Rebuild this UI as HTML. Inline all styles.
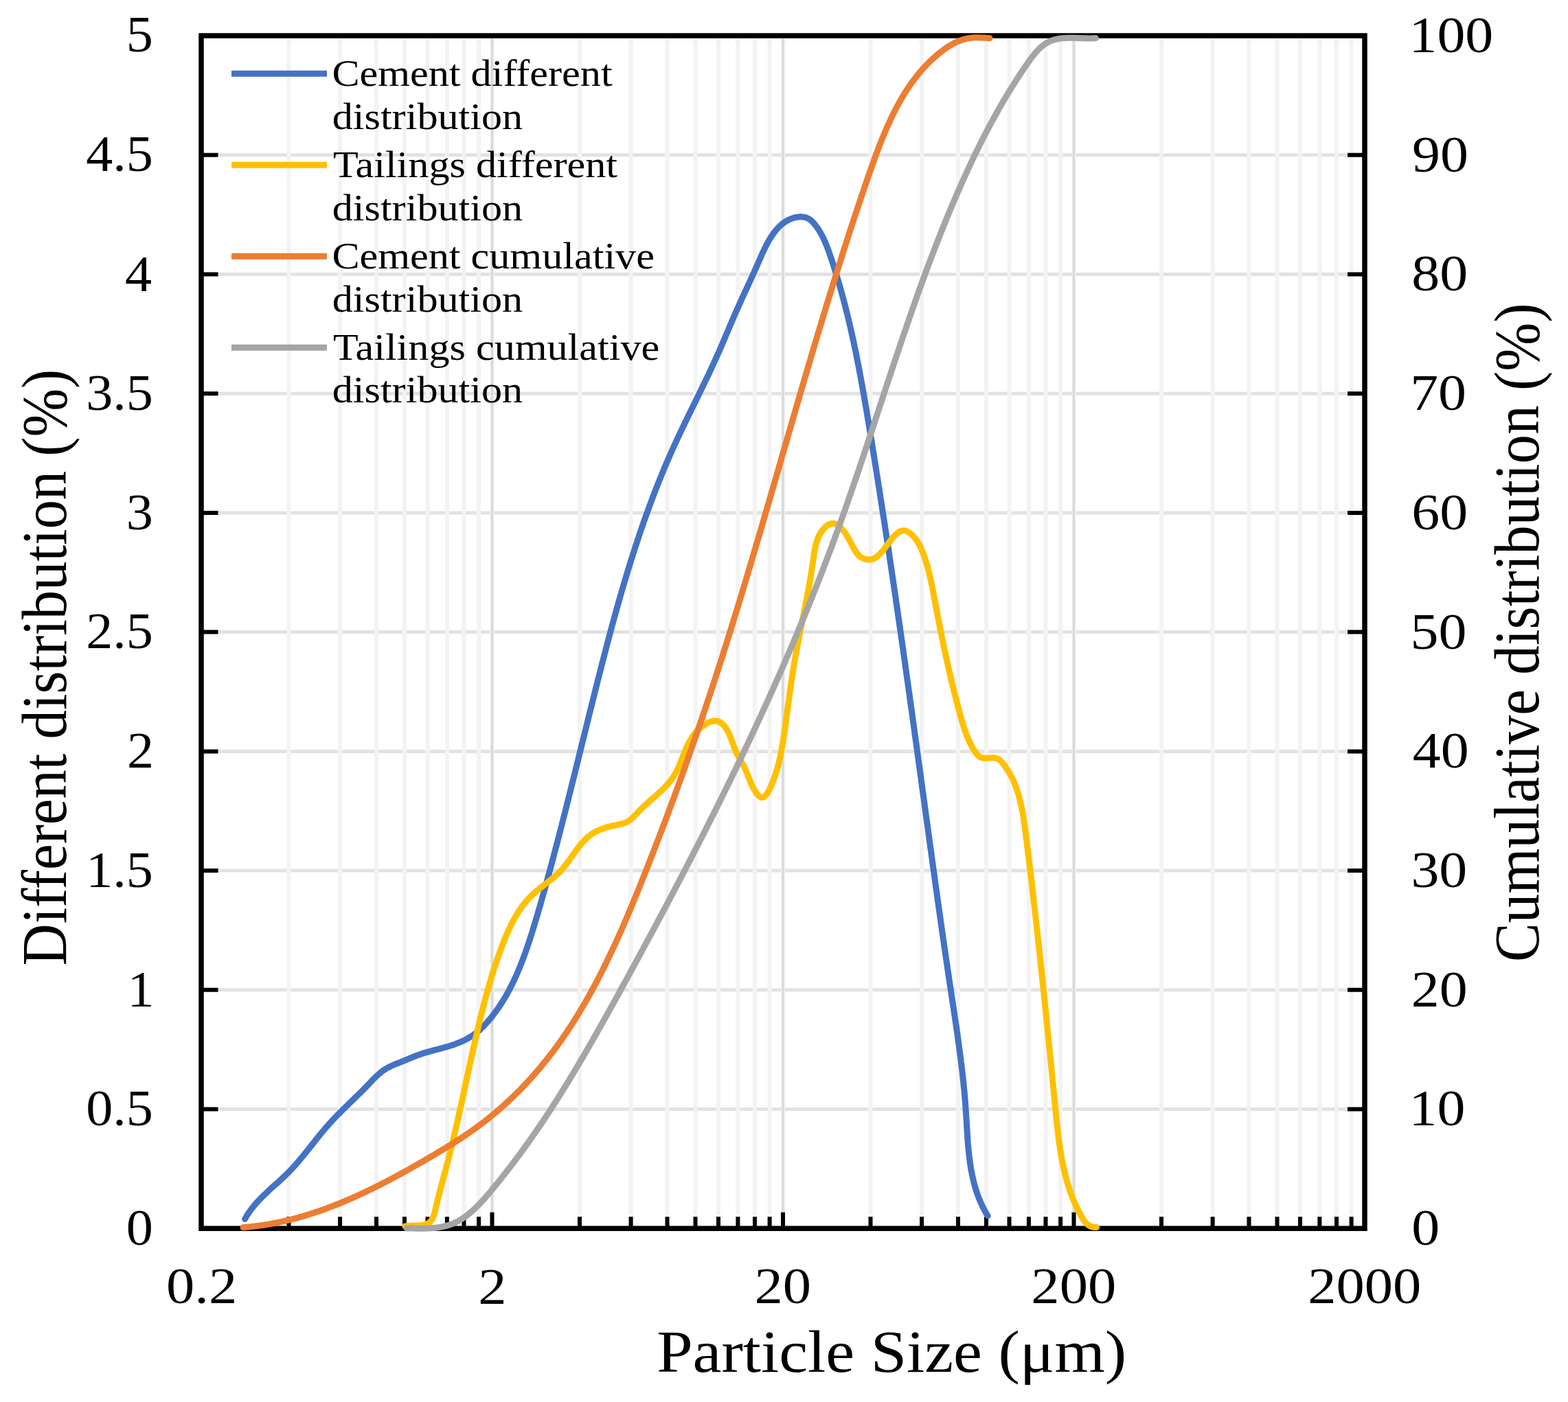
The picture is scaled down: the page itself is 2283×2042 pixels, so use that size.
<!DOCTYPE html>
<html><head><meta charset="utf-8"><title>Particle size distribution</title>
<style>html,body{margin:0;padding:0;background:#fff;}svg{display:block;}</style>
</head><body>
<svg xmlns="http://www.w3.org/2000/svg" width="2283" height="2042" viewBox="0 0 2283 2042" font-family="'Liberation Serif', 'Times New Roman', serif">
<rect width="2283" height="2042" fill="#fff"/>
<path d="M293.0,1615.6H1987.0M293.0,1441.8H1987.0M293.0,1268.1H1987.0M293.0,1094.4H1987.0M293.0,920.6H1987.0M293.0,746.9H1987.0M293.0,573.2H1987.0M293.0,399.5H1987.0M293.0,225.7H1987.0" stroke="#e2e2e2" stroke-width="5" fill="none"/>
<path d="M293.0,52.0V1789.3M420.5,52.0V1789.3M495.1,52.0V1789.3M548.0,52.0V1789.3M589.0,52.0V1789.3M622.5,52.0V1789.3M650.9,52.0V1789.3M675.5,52.0V1789.3M697.1,52.0V1789.3M716.5,52.0V1789.3M844.0,52.0V1789.3M918.6,52.0V1789.3M971.5,52.0V1789.3M1012.5,52.0V1789.3M1046.0,52.0V1789.3M1074.4,52.0V1789.3M1099.0,52.0V1789.3M1120.6,52.0V1789.3M1140.0,52.0V1789.3M1267.5,52.0V1789.3M1342.1,52.0V1789.3M1395.0,52.0V1789.3M1436.0,52.0V1789.3M1469.5,52.0V1789.3M1497.9,52.0V1789.3M1522.5,52.0V1789.3M1544.1,52.0V1789.3M1563.5,52.0V1789.3M1691.0,52.0V1789.3M1765.6,52.0V1789.3M1818.5,52.0V1789.3M1859.5,52.0V1789.3M1893.0,52.0V1789.3M1921.4,52.0V1789.3M1946.0,52.0V1789.3M1967.6,52.0V1789.3" stroke="#f3f3f3" stroke-width="6" fill="none"/>
<path d="M716.5,52.0V1789.3M1140.0,52.0V1789.3M1563.5,52.0V1789.3" stroke="#d9d9d9" stroke-width="3.4" fill="none"/>
<path d="M293.0,52.0V1789.3M1987.0,52.0V1789.3M289.25,52.0H1990.75M289.25,1789.3H1990.75" stroke="#000" stroke-width="7.5" fill="none"/>
<path d="M293.0,1789.3H317.5M1987.0,1789.3H1962.0M293.0,1615.6H317.5M1987.0,1615.6H1962.0M293.0,1441.8H317.5M1987.0,1441.8H1962.0M293.0,1268.1H317.5M1987.0,1268.1H1962.0M293.0,1094.4H317.5M1987.0,1094.4H1962.0M293.0,920.6H317.5M1987.0,920.6H1962.0M293.0,746.9H317.5M1987.0,746.9H1962.0M293.0,573.2H317.5M1987.0,573.2H1962.0M293.0,399.5H317.5M1987.0,399.5H1962.0M293.0,225.7H317.5M1987.0,225.7H1962.0M293.0,52.0H317.5M1987.0,52.0H1962.0M420.5,1789.3V1772.3M495.1,1789.3V1772.3M548.0,1789.3V1772.3M589.0,1789.3V1772.3M622.5,1789.3V1772.3M650.9,1789.3V1772.3M675.5,1789.3V1772.3M697.1,1789.3V1772.3M844.0,1789.3V1772.3M918.6,1789.3V1772.3M971.5,1789.3V1772.3M1012.5,1789.3V1772.3M1046.0,1789.3V1772.3M1074.4,1789.3V1772.3M1099.0,1789.3V1772.3M1120.6,1789.3V1772.3M1267.5,1789.3V1772.3M1342.1,1789.3V1772.3M1395.0,1789.3V1772.3M1436.0,1789.3V1772.3M1469.5,1789.3V1772.3M1497.9,1789.3V1772.3M1522.5,1789.3V1772.3M1544.1,1789.3V1772.3M1691.0,1789.3V1772.3M1765.6,1789.3V1772.3M1818.5,1789.3V1772.3M1859.5,1789.3V1772.3M1893.0,1789.3V1772.3M1921.4,1789.3V1772.3M1946.0,1789.3V1772.3M1967.6,1789.3V1772.3M293.0,1789.3V1765.8M716.5,1789.3V1765.8M1140.0,1789.3V1765.8M1563.5,1789.3V1765.8M1987.0,1789.3V1765.8" stroke="#000" stroke-width="6" fill="none"/>
<path d="M356.6,1775.5 L357.4,1774.1 L358.1,1772.8 L358.9,1771.5 L359.7,1770.2 L360.5,1768.9 L361.4,1767.6 L362.2,1766.3 L363.1,1765.1 L364.0,1763.8 L364.8,1762.6 L365.7,1761.4 L366.7,1760.2 L367.6,1759.0 L368.5,1757.9 L369.5,1756.7 L370.4,1755.5 L371.4,1754.4 L372.4,1753.3 L373.3,1752.2 L374.3,1751.0 L375.3,1749.9 L376.4,1748.8 L377.4,1747.8 L378.4,1746.7 L379.4,1745.6 L380.5,1744.6 L381.5,1743.5 L382.6,1742.4 L383.7,1741.4 L384.7,1740.4 L385.8,1739.3 L386.9,1738.3 L388.0,1737.3 L389.0,1736.3 L390.1,1735.3 L391.2,1734.2 L392.3,1733.2 L393.4,1732.2 L394.5,1731.2 L395.6,1730.2 L396.7,1729.2 L397.8,1728.2 L398.9,1727.2 L400.0,1726.2 L401.1,1725.2 L402.3,1724.2 L403.4,1723.3 L404.5,1722.3 L405.6,1721.3 L406.7,1720.3 L407.8,1719.2 L408.9,1718.2 L410.0,1717.2 L411.0,1716.2 L412.1,1715.2 L413.2,1714.2 L414.3,1713.2 L415.4,1712.1 L416.4,1711.1 L417.5,1710.0 L418.6,1709.0 L419.6,1707.9 L420.7,1706.9 L421.7,1705.8 L422.7,1704.7 L423.7,1703.7 L424.8,1702.6 L425.8,1701.5 L426.8,1700.4 L427.8,1699.3 L428.8,1698.2 L429.8,1697.1 L430.8,1696.0 L431.8,1694.8 L432.7,1693.7 L433.7,1692.6 L434.7,1691.4 L435.7,1690.3 L436.6,1689.2 L437.6,1688.0 L438.5,1686.9 L439.5,1685.7 L440.5,1684.6 L441.4,1683.4 L442.4,1682.2 L443.3,1681.1 L444.2,1679.9 L445.2,1678.7 L446.1,1677.6 L447.1,1676.4 L448.0,1675.2 L448.9,1674.0 L449.9,1672.9 L450.8,1671.7 L451.7,1670.5 L452.7,1669.3 L453.6,1668.2 L454.5,1667.0 L455.5,1665.8 L456.4,1664.6 L457.3,1663.5 L458.3,1662.3 L459.2,1661.1 L460.1,1659.9 L461.1,1658.8 L462.0,1657.6 L463.0,1656.4 L463.9,1655.2 L464.8,1654.1 L465.8,1652.9 L466.7,1651.7 L467.7,1650.6 L468.6,1649.4 L469.6,1648.3 L470.6,1647.1 L471.5,1646.0 L472.5,1644.8 L473.5,1643.7 L474.4,1642.5 L475.4,1641.4 L476.4,1640.3 L477.4,1639.1 L478.4,1638.0 L479.4,1636.9 L480.4,1635.8 L481.4,1634.7 L482.4,1633.6 L483.4,1632.5 L484.4,1631.4 L485.4,1630.3 L486.5,1629.2 L487.5,1628.1 L488.5,1627.0 L489.6,1626.0 L490.6,1624.9 L491.7,1623.8 L492.7,1622.8 L493.8,1621.7 L494.8,1620.6 L495.9,1619.6 L496.9,1618.5 L498.0,1617.5 L499.0,1616.4 L500.1,1615.4 L501.2,1614.3 L502.3,1613.3 L503.3,1612.2 L504.4,1611.2 L505.5,1610.1 L506.6,1609.1 L507.6,1608.0 L508.7,1607.0 L509.8,1606.0 L510.9,1604.9 L511.9,1603.9 L513.0,1602.8 L514.1,1601.8 L515.2,1600.7 L516.3,1599.7 L517.3,1598.6 L518.4,1597.6 L519.5,1596.5 L520.6,1595.5 L521.7,1594.4 L522.7,1593.4 L523.8,1592.3 L524.9,1591.3 L525.9,1590.2 L527.0,1589.1 L528.1,1588.1 L529.1,1587.0 L530.2,1585.9 L531.3,1584.8 L532.3,1583.8 L533.4,1582.7 L534.4,1581.6 L535.5,1580.5 L536.5,1579.4 L537.6,1578.3 L538.6,1577.2 L539.6,1576.1 L540.7,1575.0 L541.7,1573.9 L542.8,1572.8 L543.8,1571.7 L544.9,1570.6 L546.0,1569.6 L547.0,1568.5 L548.1,1567.5 L549.2,1566.5 L550.3,1565.5 L551.4,1564.5 L552.5,1563.5 L553.7,1562.6 L554.8,1561.6 L556.0,1560.7 L557.2,1559.8 L558.3,1559.0 L559.6,1558.2 L560.8,1557.4 L562.0,1556.6 L563.3,1555.9 L564.6,1555.2 L565.9,1554.5 L567.2,1553.8 L568.5,1553.2 L569.9,1552.5 L571.2,1551.9 L572.6,1551.3 L573.9,1550.7 L575.3,1550.1 L576.7,1549.6 L578.1,1549.0 L579.5,1548.5 L580.9,1547.9 L582.2,1547.4 L583.6,1546.8 L585.0,1546.3 L586.4,1545.7 L587.8,1545.1 L589.2,1544.6 L590.6,1544.0 L592.0,1543.4 L593.4,1542.8 L594.8,1542.3 L596.2,1541.7 L597.5,1541.1 L598.9,1540.5 L600.3,1539.9 L601.7,1539.4 L603.1,1538.8 L604.5,1538.3 L605.9,1537.7 L607.3,1537.2 L608.6,1536.7 L610.0,1536.2 L611.5,1535.7 L612.9,1535.2 L614.3,1534.7 L615.7,1534.3 L617.1,1533.8 L618.5,1533.4 L619.9,1533.0 L621.4,1532.6 L622.8,1532.2 L624.2,1531.8 L625.7,1531.4 L627.1,1531.0 L628.5,1530.6 L630.0,1530.2 L631.4,1529.8 L632.8,1529.5 L634.3,1529.1 L635.7,1528.7 L637.1,1528.3 L638.6,1528.0 L640.0,1527.6 L641.5,1527.2 L642.9,1526.8 L644.3,1526.4 L645.8,1526.0 L647.2,1525.6 L648.6,1525.2 L650.1,1524.8 L651.5,1524.4 L652.9,1524.0 L654.4,1523.5 L655.8,1523.1 L657.2,1522.6 L658.7,1522.2 L660.1,1521.7 L661.5,1521.2 L662.9,1520.7 L664.3,1520.1 L665.7,1519.6 L667.1,1519.1 L668.5,1518.5 L669.9,1517.9 L671.3,1517.3 L672.7,1516.7 L674.1,1516.1 L675.4,1515.4 L676.8,1514.8 L678.1,1514.1 L679.4,1513.4 L680.7,1512.7 L682.0,1511.9 L683.3,1511.2 L684.6,1510.4 L685.9,1509.6 L687.1,1508.8 L688.4,1508.0 L689.6,1507.1 L690.8,1506.2 L692.0,1505.3 L693.2,1504.4 L694.4,1503.5 L695.5,1502.5 L696.7,1501.5 L697.8,1500.6 L698.9,1499.6 L700.0,1498.5 L701.1,1497.5 L702.2,1496.5 L703.3,1495.4 L704.3,1494.3 L705.4,1493.2 L706.4,1492.2 L707.4,1491.0 L708.4,1489.9 L709.5,1488.8 L710.4,1487.7 L711.4,1486.5 L712.4,1485.4 L713.4,1484.2 L714.3,1483.0 L715.3,1481.9 L716.2,1480.7 L717.2,1479.5 L718.1,1478.3 L719.0,1477.1 L719.9,1475.9 L720.8,1474.7 L721.7,1473.5 L722.6,1472.3 L723.4,1471.1 L724.3,1469.9 L725.1,1468.6 L726.0,1467.4 L726.8,1466.2 L727.7,1464.9 L728.5,1463.7 L729.3,1462.4 L730.1,1461.2 L730.9,1459.9 L731.7,1458.6 L732.5,1457.4 L733.3,1456.1 L734.0,1454.8 L734.8,1453.5 L735.6,1452.3 L736.3,1451.0 L737.1,1449.7 L737.8,1448.4 L738.5,1447.1 L739.2,1445.8 L740.0,1444.5 L740.7,1443.2 L741.4,1441.9 L742.1,1440.5 L742.8,1439.2 L743.4,1437.9 L744.1,1436.6 L744.8,1435.2 L745.5,1433.9 L746.1,1432.6 L746.8,1431.2 L747.4,1429.9 L748.1,1428.5 L748.7,1427.2 L749.3,1425.8 L750.0,1424.5 L750.6,1423.1 L751.2,1421.8 L751.8,1420.4 L752.4,1419.0 L753.0,1417.6 L753.6,1416.3 L754.2,1414.9 L754.8,1413.5 L755.4,1412.1 L755.9,1410.8 L756.5,1409.4 L757.1,1408.0 L757.6,1406.6 L758.2,1405.2 L758.7,1403.8 L759.3,1402.4 L759.8,1401.0 L760.4,1399.6 L760.9,1398.2 L761.4,1396.8 L762.0,1395.4 L762.5,1394.0 L763.0,1392.6 L763.5,1391.2 L764.0,1389.8 L764.5,1388.3 L765.1,1386.9 L765.6,1385.5 L766.1,1384.1 L766.6,1382.7 L767.0,1381.2 L767.5,1379.8 L768.0,1378.4 L768.5,1377.0 L769.0,1375.5 L769.5,1374.1 L769.9,1372.7 L770.4,1371.2 L770.9,1369.8 L771.3,1368.4 L771.8,1367.0 L772.3,1365.5 L772.7,1364.1 L773.2,1362.6 L773.7,1361.2 L774.1,1359.8 L774.6,1358.3 L775.0,1356.9 L775.5,1355.5 L775.9,1354.0 L776.3,1352.6 L776.8,1351.1 L777.2,1349.7 L777.7,1348.2 L778.1,1346.8 L778.5,1345.4 L779.0,1343.9 L779.4,1342.5 L779.9,1341.0 L780.3,1339.6 L780.7,1338.2 L781.1,1336.7 L781.6,1335.3 L782.0,1333.8 L782.4,1332.4 L782.9,1330.9 L783.3,1329.5 L783.7,1328.1 L784.1,1326.6 L784.5,1325.2 L785.0,1323.7 L785.4,1322.3 L785.8,1320.8 L786.2,1319.4 L786.6,1318.0 L787.1,1316.5 L787.5,1315.1 L787.9,1313.6 L788.3,1312.2 L788.7,1310.7 L789.1,1309.3 L789.5,1307.8 L789.9,1306.4 L790.3,1305.0 L790.7,1303.5 L791.1,1302.1 L791.6,1300.6 L792.0,1299.2 L792.4,1297.7 L792.8,1296.3 L793.2,1294.8 L793.6,1293.4 L794.0,1291.9 L794.4,1290.5 L794.8,1289.1 L795.2,1287.6 L795.6,1286.2 L796.0,1284.7 L796.4,1283.3 L796.7,1281.8 L797.1,1280.4 L797.5,1278.9 L797.9,1277.5 L798.3,1276.0 L798.7,1274.6 L799.1,1273.1 L799.5,1271.7 L799.9,1270.2 L800.3,1268.8 L800.7,1267.4 L801.1,1265.9 L801.4,1264.5 L801.8,1263.0 L802.2,1261.6 L802.6,1260.1 L803.0,1258.7 L803.4,1257.2 L803.8,1255.8 L804.2,1254.3 L804.5,1252.9 L804.9,1251.4 L805.3,1250.0 L805.7,1248.5 L806.1,1247.1 L806.5,1245.6 L806.8,1244.2 L807.2,1242.7 L807.6,1241.3 L808.0,1239.8 L808.4,1238.4 L808.7,1237.0 L809.1,1235.5 L809.5,1234.1 L809.9,1232.6 L810.3,1231.2 L810.6,1229.7 L811.0,1228.3 L811.4,1226.8 L811.8,1225.4 L812.1,1223.9 L812.5,1222.5 L812.9,1221.0 L813.3,1219.6 L813.6,1218.1 L814.0,1216.7 L814.4,1215.2 L814.8,1213.8 L815.1,1212.3 L815.5,1210.9 L815.9,1209.4 L816.3,1208.0 L816.6,1206.5 L817.0,1205.1 L817.4,1203.6 L817.8,1202.2 L818.1,1200.7 L818.5,1199.3 L818.9,1197.8 L819.2,1196.4 L819.6,1194.9 L820.0,1193.5 L820.3,1192.0 L820.7,1190.6 L821.1,1189.1 L821.5,1187.7 L821.8,1186.2 L822.2,1184.8 L822.6,1183.3 L822.9,1181.9 L823.3,1180.4 L823.7,1179.0 L824.0,1177.5 L824.4,1176.1 L824.8,1174.6 L825.1,1173.2 L825.5,1171.7 L825.9,1170.3 L826.2,1168.8 L826.6,1167.4 L826.9,1165.9 L827.3,1164.5 L827.7,1163.0 L828.0,1161.6 L828.4,1160.1 L828.8,1158.7 L829.1,1157.2 L829.5,1155.8 L829.9,1154.3 L830.2,1152.8 L830.6,1151.4 L830.9,1149.9 L831.3,1148.5 L831.7,1147.0 L832.0,1145.6 L832.4,1144.1 L832.8,1142.7 L833.1,1141.2 L833.5,1139.8 L833.8,1138.3 L834.2,1136.9 L834.6,1135.4 L834.9,1134.0 L835.3,1132.5 L835.7,1131.1 L836.0,1129.6 L836.4,1128.2 L836.7,1126.7 L837.1,1125.3 L837.5,1123.8 L837.8,1122.3 L838.2,1120.9 L838.5,1119.4 L838.9,1118.0 L839.3,1116.5 L839.6,1115.1 L840.0,1113.6 L840.3,1112.2 L840.7,1110.7 L841.1,1109.3 L841.4,1107.8 L841.8,1106.4 L842.1,1104.9 L842.5,1103.5 L842.8,1102.0 L843.2,1100.6 L843.6,1099.1 L843.9,1097.6 L844.3,1096.2 L844.6,1094.7 L845.0,1093.3 L845.4,1091.8 L845.7,1090.4 L846.1,1088.9 L846.4,1087.5 L846.8,1086.0 L847.2,1084.6 L847.5,1083.1 L847.9,1081.6 L848.2,1080.2 L848.6,1078.7 L849.0,1077.3 L849.3,1075.8 L849.7,1074.4 L850.0,1072.9 L850.4,1071.5 L850.8,1070.0 L851.1,1068.6 L851.5,1067.1 L851.8,1065.6 L852.2,1064.2 L852.6,1062.7 L852.9,1061.3 L853.3,1059.8 L853.6,1058.4 L854.0,1056.9 L854.4,1055.5 L854.7,1054.0 L855.1,1052.6 L855.4,1051.1 L855.8,1049.6 L856.2,1048.2 L856.5,1046.7 L856.9,1045.3 L857.2,1043.8 L857.6,1042.4 L858.0,1040.9 L858.3,1039.5 L858.7,1038.0 L859.0,1036.5 L859.4,1035.1 L859.8,1033.6 L860.1,1032.2 L860.5,1030.7 L860.9,1029.3 L861.2,1027.8 L861.6,1026.4 L861.9,1024.9 L862.3,1023.4 L862.7,1022.0 L863.0,1020.5 L863.4,1019.1 L863.8,1017.6 L864.1,1016.2 L864.5,1014.7 L864.9,1013.2 L865.2,1011.8 L865.6,1010.3 L865.9,1008.9 L866.3,1007.4 L866.7,1006.0 L867.0,1004.5 L867.4,1003.0 L867.8,1001.6 L868.1,1000.1 L868.5,998.7 L868.9,997.2 L869.2,995.8 L869.6,994.3 L870.0,992.9 L870.3,991.4 L870.7,989.9 L871.1,988.5 L871.5,987.0 L871.8,985.6 L872.2,984.1 L872.6,982.7 L872.9,981.2 L873.3,979.7 L873.7,978.3 L874.0,976.8 L874.4,975.4 L874.8,973.9 L875.2,972.5 L875.5,971.0 L875.9,969.5 L876.3,968.1 L876.7,966.6 L877.0,965.2 L877.4,963.7 L877.8,962.3 L878.2,960.8 L878.5,959.3 L878.9,957.9 L879.3,956.4 L879.7,955.0 L880.0,953.5 L880.4,952.1 L880.8,950.6 L881.2,949.1 L881.6,947.7 L881.9,946.2 L882.3,944.8 L882.7,943.3 L883.1,941.9 L883.5,940.4 L883.8,939.0 L884.2,937.5 L884.6,936.1 L885.0,934.6 L885.4,933.1 L885.8,931.7 L886.1,930.2 L886.5,928.8 L886.9,927.3 L887.3,925.9 L887.7,924.4 L888.1,923.0 L888.5,921.5 L888.9,920.1 L889.3,918.6 L889.6,917.1 L890.0,915.7 L890.4,914.2 L890.8,912.8 L891.2,911.3 L891.6,909.9 L892.0,908.4 L892.4,907.0 L892.8,905.5 L893.2,904.1 L893.6,902.6 L894.0,901.2 L894.4,899.7 L894.8,898.3 L895.2,896.8 L895.6,895.4 L896.0,893.9 L896.4,892.5 L896.8,891.0 L897.2,889.6 L897.6,888.1 L898.0,886.7 L898.4,885.2 L898.8,883.8 L899.2,882.3 L899.6,880.9 L900.0,879.4 L900.4,878.0 L900.9,876.5 L901.3,875.1 L901.7,873.6 L902.1,872.2 L902.5,870.8 L902.9,869.3 L903.3,867.9 L903.8,866.4 L904.2,865.0 L904.6,863.5 L905.0,862.1 L905.4,860.6 L905.8,859.2 L906.3,857.8 L906.7,856.3 L907.1,854.9 L907.5,853.4 L908.0,852.0 L908.4,850.5 L908.8,849.1 L909.2,847.7 L909.7,846.2 L910.1,844.8 L910.5,843.3 L911.0,841.9 L911.4,840.5 L911.8,839.0 L912.3,837.6 L912.7,836.1 L913.1,834.7 L913.6,833.3 L914.0,831.8 L914.4,830.4 L914.9,829.0 L915.3,827.5 L915.8,826.1 L916.2,824.6 L916.6,823.2 L917.1,821.8 L917.5,820.3 L918.0,818.9 L918.4,817.5 L918.9,816.0 L919.3,814.6 L919.8,813.2 L920.2,811.8 L920.7,810.3 L921.1,808.9 L921.6,807.5 L922.0,806.0 L922.5,804.6 L923.0,803.2 L923.4,801.7 L923.9,800.3 L924.3,798.9 L924.8,797.5 L925.3,796.0 L925.7,794.6 L926.2,793.2 L926.7,791.8 L927.1,790.3 L927.6,788.9 L928.1,787.5 L928.5,786.1 L929.0,784.6 L929.5,783.2 L930.0,781.8 L930.4,780.4 L930.9,778.9 L931.4,777.5 L931.9,776.1 L932.4,774.7 L932.8,773.3 L933.3,771.9 L933.8,770.4 L934.3,769.0 L934.8,767.6 L935.3,766.2 L935.8,764.8 L936.3,763.4 L936.7,761.9 L937.2,760.5 L937.7,759.1 L938.2,757.7 L938.7,756.3 L939.2,754.9 L939.7,753.5 L940.2,752.1 L940.7,750.6 L941.2,749.2 L941.7,747.8 L942.3,746.4 L942.8,745.0 L943.3,743.6 L943.8,742.2 L944.3,740.8 L944.8,739.4 L945.3,738.0 L945.8,736.6 L946.4,735.2 L946.9,733.8 L947.4,732.4 L947.9,731.0 L948.4,729.6 L949.0,728.2 L949.5,726.8 L950.0,725.4 L950.6,724.0 L951.1,722.6 L951.6,721.2 L952.2,719.8 L952.7,718.4 L953.2,717.0 L953.8,715.6 L954.3,714.2 L954.8,712.8 L955.4,711.4 L955.9,710.0 L956.5,708.6 L957.0,707.2 L957.6,705.8 L958.1,704.5 L958.7,703.1 L959.2,701.7 L959.8,700.3 L960.3,698.9 L960.9,697.5 L961.5,696.1 L962.0,694.8 L962.6,693.4 L963.2,692.0 L963.7,690.6 L964.3,689.2 L964.9,687.8 L965.4,686.5 L966.0,685.1 L966.6,683.7 L967.1,682.3 L967.7,681.0 L968.3,679.6 L968.9,678.2 L969.5,676.8 L970.1,675.5 L970.6,674.1 L971.2,672.7 L971.8,671.3 L972.4,670.0 L973.0,668.6 L973.6,667.2 L974.2,665.9 L974.8,664.5 L975.4,663.1 L976.0,661.8 L976.6,660.4 L977.2,659.0 L977.8,657.7 L978.4,656.3 L979.0,654.9 L979.6,653.6 L980.2,652.2 L980.9,650.9 L981.5,649.5 L982.1,648.1 L982.7,646.8 L983.3,645.4 L984.0,644.1 L984.6,642.7 L985.2,641.4 L985.8,640.0 L986.5,638.7 L987.1,637.3 L987.7,636.0 L988.4,634.6 L989.0,633.3 L989.6,631.9 L990.3,630.6 L990.9,629.2 L991.6,627.9 L992.2,626.5 L992.8,625.2 L993.5,623.8 L994.1,622.5 L994.8,621.1 L995.4,619.8 L996.1,618.4 L996.7,617.1 L997.4,615.7 L998.0,614.4 L998.7,613.1 L999.3,611.7 L1000.0,610.4 L1000.6,609.0 L1001.3,607.7 L1001.9,606.3 L1002.6,605.0 L1003.3,603.6 L1003.9,602.3 L1004.6,601.0 L1005.2,599.6 L1005.9,598.3 L1006.5,596.9 L1007.2,595.6 L1007.9,594.2 L1008.5,592.9 L1009.2,591.5 L1009.8,590.2 L1010.5,588.9 L1011.2,587.5 L1011.8,586.2 L1012.5,584.8 L1013.1,583.5 L1013.8,582.1 L1014.5,580.8 L1015.1,579.4 L1015.8,578.1 L1016.4,576.7 L1017.1,575.4 L1017.8,574.0 L1018.4,572.7 L1019.1,571.3 L1019.7,570.0 L1020.4,568.6 L1021.1,567.3 L1021.7,565.9 L1022.4,564.6 L1023.0,563.2 L1023.7,561.9 L1024.3,560.5 L1025.0,559.2 L1025.6,557.8 L1026.3,556.4 L1027.0,555.1 L1027.6,553.7 L1028.3,552.4 L1028.9,551.0 L1029.6,549.6 L1030.2,548.3 L1030.9,546.9 L1031.5,545.6 L1032.2,544.2 L1032.8,542.8 L1033.4,541.5 L1034.1,540.1 L1034.7,538.7 L1035.4,537.3 L1036.0,536.0 L1036.6,534.6 L1037.3,533.2 L1037.9,531.9 L1038.6,530.5 L1039.2,529.1 L1039.8,527.7 L1040.5,526.3 L1041.1,525.0 L1041.7,523.6 L1042.3,522.2 L1043.0,520.8 L1043.6,519.4 L1044.2,518.0 L1044.8,516.6 L1045.4,515.3 L1046.1,513.9 L1046.7,512.5 L1047.3,511.1 L1047.9,509.7 L1048.5,508.3 L1049.1,506.9 L1049.7,505.5 L1050.3,504.1 L1050.9,502.7 L1051.5,501.3 L1052.1,499.9 L1052.7,498.5 L1053.3,497.1 L1053.9,495.7 L1054.5,494.3 L1055.1,492.9 L1055.7,491.5 L1056.3,490.1 L1056.9,488.7 L1057.5,487.3 L1058.1,485.9 L1058.7,484.5 L1059.3,483.1 L1059.9,481.7 L1060.5,480.3 L1061.1,478.9 L1061.6,477.5 L1062.2,476.1 L1062.8,474.7 L1063.4,473.4 L1064.0,472.0 L1064.6,470.6 L1065.2,469.2 L1065.8,467.8 L1066.3,466.5 L1066.9,465.1 L1067.5,463.7 L1068.1,462.4 L1068.7,461.0 L1069.3,459.6 L1069.9,458.3 L1070.5,456.9 L1071.0,455.6 L1071.6,454.2 L1072.2,452.9 L1072.8,451.6 L1073.4,450.2 L1074.0,448.9 L1074.6,447.6 L1075.2,446.2 L1075.8,444.9 L1076.4,443.6 L1077.0,442.3 L1077.6,441.0 L1078.2,439.7 L1078.8,438.3 L1079.3,437.0 L1079.9,435.7 L1080.5,434.4 L1081.1,433.1 L1081.7,431.8 L1082.3,430.5 L1082.9,429.2 L1083.5,427.9 L1084.1,426.6 L1084.7,425.3 L1085.3,423.9 L1086.0,422.6 L1086.6,421.3 L1087.2,420.0 L1087.8,418.7 L1088.4,417.4 L1089.0,416.1 L1089.6,414.7 L1090.2,413.4 L1090.8,412.1 L1091.4,410.8 L1092.0,409.4 L1092.6,408.1 L1093.3,406.7 L1093.9,405.4 L1094.5,404.1 L1095.1,402.7 L1095.7,401.4 L1096.3,400.0 L1096.9,398.6 L1097.6,397.3 L1098.2,395.9 L1098.8,394.5 L1099.4,393.1 L1100.0,391.7 L1100.7,390.3 L1101.3,388.9 L1101.9,387.5 L1102.5,386.1 L1103.2,384.6 L1103.8,383.2 L1104.4,381.8 L1105.1,380.3 L1105.7,378.9 L1106.3,377.4 L1107.0,376.0 L1107.6,374.5 L1108.3,373.1 L1108.9,371.6 L1109.6,370.1 L1110.2,368.7 L1110.9,367.2 L1111.6,365.8 L1112.3,364.3 L1112.9,362.9 L1113.6,361.5 L1114.3,360.0 L1115.1,358.6 L1115.8,357.2 L1116.5,355.8 L1117.2,354.4 L1118.0,353.0 L1118.8,351.7 L1119.5,350.3 L1120.3,349.0 L1121.1,347.6 L1121.9,346.3 L1122.7,345.0 L1123.6,343.7 L1124.4,342.5 L1125.3,341.2 L1126.1,340.0 L1127.0,338.8 L1127.9,337.6 L1128.9,336.4 L1129.8,335.3 L1130.7,334.2 L1131.7,333.1 L1132.7,332.0 L1133.7,330.9 L1134.7,329.9 L1135.8,328.9 L1136.8,328.0 L1137.9,327.0 L1139.0,326.1 L1140.1,325.3 L1141.3,324.4 L1142.4,323.6 L1143.6,322.8 L1144.8,322.1 L1146.0,321.4 L1147.3,320.7 L1148.6,320.1 L1149.9,319.5 L1151.2,318.9 L1152.5,318.4 L1153.9,317.9 L1155.3,317.4 L1156.7,317.1 L1158.1,316.7 L1159.6,316.4 L1161.0,316.2 L1162.4,316.0 L1163.9,315.9 L1165.3,315.8 L1166.7,315.8 L1168.1,315.9 L1169.5,316.1 L1170.9,316.3 L1172.3,316.6 L1173.6,317.0 L1174.9,317.4 L1176.1,318.0 L1177.4,318.6 L1178.6,319.4 L1179.7,320.2 L1180.8,321.1 L1181.9,322.0 L1183.0,323.0 L1184.0,324.1 L1185.0,325.2 L1185.9,326.3 L1186.9,327.5 L1187.8,328.7 L1188.7,329.9 L1189.6,331.1 L1190.4,332.3 L1191.2,333.6 L1192.1,334.8 L1192.9,336.1 L1193.6,337.4 L1194.4,338.7 L1195.1,340.0 L1195.9,341.3 L1196.6,342.6 L1197.3,343.9 L1198.0,345.3 L1198.6,346.6 L1199.3,348.0 L1199.9,349.3 L1200.5,350.7 L1201.1,352.1 L1201.8,353.5 L1202.3,354.9 L1202.9,356.3 L1203.5,357.7 L1204.0,359.1 L1204.6,360.5 L1205.1,361.9 L1205.7,363.4 L1206.2,364.8 L1206.7,366.2 L1207.2,367.7 L1207.7,369.1 L1208.2,370.5 L1208.7,372.0 L1209.2,373.4 L1209.7,374.9 L1210.2,376.3 L1210.7,377.8 L1211.2,379.2 L1211.6,380.7 L1212.1,382.1 L1212.6,383.5 L1213.1,385.0 L1213.5,386.4 L1214.0,387.9 L1214.5,389.3 L1214.9,390.8 L1215.4,392.2 L1215.8,393.7 L1216.3,395.1 L1216.7,396.6 L1217.2,398.0 L1217.6,399.5 L1218.1,400.9 L1218.5,402.4 L1218.9,403.8 L1219.4,405.3 L1219.8,406.8 L1220.2,408.2 L1220.7,409.7 L1221.1,411.1 L1221.5,412.6 L1221.9,414.0 L1222.4,415.5 L1222.8,416.9 L1223.2,418.4 L1223.6,419.8 L1224.0,421.3 L1224.4,422.7 L1224.8,424.2 L1225.2,425.7 L1225.6,427.1 L1226.0,428.6 L1226.4,430.0 L1226.8,431.5 L1227.2,432.9 L1227.6,434.4 L1228.0,435.8 L1228.4,437.3 L1228.8,438.8 L1229.1,440.2 L1229.5,441.7 L1229.9,443.1 L1230.3,444.6 L1230.7,446.1 L1231.0,447.5 L1231.4,449.0 L1231.8,450.4 L1232.1,451.9 L1232.5,453.4 L1232.9,454.8 L1233.2,456.3 L1233.6,457.7 L1234.0,459.2 L1234.3,460.7 L1234.7,462.1 L1235.0,463.6 L1235.4,465.0 L1235.7,466.5 L1236.1,468.0 L1236.4,469.4 L1236.8,470.9 L1237.1,472.3 L1237.4,473.8 L1237.8,475.3 L1238.1,476.7 L1238.5,478.2 L1238.8,479.7 L1239.1,481.1 L1239.4,482.6 L1239.8,484.1 L1240.1,485.5 L1240.4,487.0 L1240.8,488.4 L1241.1,489.9 L1241.4,491.4 L1241.7,492.8 L1242.0,494.3 L1242.4,495.8 L1242.7,497.2 L1243.0,498.7 L1243.3,500.2 L1243.6,501.6 L1243.9,503.1 L1244.2,504.6 L1244.5,506.0 L1244.8,507.5 L1245.2,509.0 L1245.5,510.4 L1245.8,511.9 L1246.1,513.4 L1246.4,514.8 L1246.7,516.3 L1247.0,517.8 L1247.2,519.2 L1247.5,520.7 L1247.8,522.2 L1248.1,523.7 L1248.4,525.1 L1248.7,526.6 L1249.0,528.1 L1249.3,529.5 L1249.6,531.0 L1249.9,532.5 L1250.1,533.9 L1250.4,535.4 L1250.7,536.9 L1251.0,538.3 L1251.3,539.8 L1251.5,541.3 L1251.8,542.8 L1252.1,544.2 L1252.4,545.7 L1252.6,547.2 L1252.9,548.6 L1253.2,550.1 L1253.5,551.6 L1253.7,553.1 L1254.0,554.5 L1254.3,556.0 L1254.5,557.5 L1254.8,558.9 L1255.1,560.4 L1255.3,561.9 L1255.6,563.4 L1255.9,564.8 L1256.1,566.3 L1256.4,567.8 L1256.7,569.3 L1256.9,570.7 L1257.2,572.2 L1257.4,573.7 L1257.7,575.1 L1258.0,576.6 L1258.2,578.1 L1258.5,579.6 L1258.7,581.0 L1259.0,582.5 L1259.2,584.0 L1259.5,585.5 L1259.7,586.9 L1260.0,588.4 L1260.2,589.9 L1260.5,591.4 L1260.8,592.8 L1261.0,594.3 L1261.3,595.8 L1261.5,597.3 L1261.8,598.7 L1262.0,600.2 L1262.2,601.7 L1262.5,603.2 L1262.7,604.6 L1263.0,606.1 L1263.2,607.6 L1263.5,609.1 L1263.7,610.5 L1264.0,612.0 L1264.2,613.5 L1264.5,615.0 L1264.7,616.4 L1265.0,617.9 L1265.2,619.4 L1265.4,620.9 L1265.7,622.4 L1265.9,623.8 L1266.2,625.3 L1266.4,626.8 L1266.7,628.3 L1266.9,629.7 L1267.1,631.2 L1267.4,632.7 L1267.6,634.2 L1267.9,635.6 L1268.1,637.1 L1268.3,638.6 L1268.6,640.1 L1268.8,641.6 L1269.1,643.0 L1269.3,644.5 L1269.6,646.0 L1269.8,647.5 L1270.0,648.9 L1270.3,650.4 L1270.5,651.9 L1270.7,653.4 L1271.0,654.8 L1271.2,656.3 L1271.5,657.8 L1271.7,659.3 L1271.9,660.8 L1272.2,662.2 L1272.4,663.7 L1272.7,665.2 L1272.9,666.7 L1273.1,668.2 L1273.4,669.6 L1273.6,671.1 L1273.8,672.6 L1274.1,674.1 L1274.3,675.5 L1274.5,677.0 L1274.8,678.5 L1275.0,680.0 L1275.3,681.5 L1275.5,682.9 L1275.7,684.4 L1276.0,685.9 L1276.2,687.4 L1276.4,688.9 L1276.7,690.3 L1276.9,691.8 L1277.1,693.3 L1277.4,694.8 L1277.6,696.3 L1277.8,697.7 L1278.1,699.2 L1278.3,700.7 L1278.5,702.2 L1278.8,703.6 L1279.0,705.1 L1279.2,706.6 L1279.5,708.1 L1279.7,709.6 L1279.9,711.0 L1280.2,712.5 L1280.4,714.0 L1280.6,715.5 L1280.9,717.0 L1281.1,718.4 L1281.3,719.9 L1281.5,721.4 L1281.8,722.9 L1282.0,724.4 L1282.2,725.9 L1282.5,727.3 L1282.7,728.8 L1282.9,730.3 L1283.2,731.8 L1283.4,733.3 L1283.6,734.7 L1283.8,736.2 L1284.1,737.7 L1284.3,739.2 L1284.5,740.7 L1284.8,742.1 L1285.0,743.6 L1285.2,745.1 L1285.4,746.6 L1285.7,748.1 L1285.9,749.5 L1286.1,751.0 L1286.4,752.5 L1286.6,754.0 L1286.8,755.5 L1287.0,757.0 L1287.3,758.4 L1287.5,759.9 L1287.7,761.4 L1287.9,762.9 L1288.2,764.4 L1288.4,765.8 L1288.6,767.3 L1288.8,768.8 L1289.1,770.3 L1289.3,771.8 L1289.5,773.3 L1289.7,774.7 L1290.0,776.2 L1290.2,777.7 L1290.4,779.2 L1290.6,780.7 L1290.9,782.1 L1291.1,783.6 L1291.3,785.1 L1291.5,786.6 L1291.8,788.1 L1292.0,789.6 L1292.2,791.0 L1292.4,792.5 L1292.7,794.0 L1292.9,795.5 L1293.1,797.0 L1293.3,798.5 L1293.6,799.9 L1293.8,801.4 L1294.0,802.9 L1294.2,804.4 L1294.4,805.9 L1294.7,807.4 L1294.9,808.8 L1295.1,810.3 L1295.3,811.8 L1295.5,813.3 L1295.8,814.8 L1296.0,816.3 L1296.2,817.7 L1296.4,819.2 L1296.7,820.7 L1296.9,822.2 L1297.1,823.7 L1297.3,825.2 L1297.5,826.6 L1297.8,828.1 L1298.0,829.6 L1298.2,831.1 L1298.4,832.6 L1298.6,834.1 L1298.8,835.5 L1299.1,837.0 L1299.3,838.5 L1299.5,840.0 L1299.7,841.5 L1299.9,843.0 L1300.2,844.4 L1300.4,845.9 L1300.6,847.4 L1300.8,848.9 L1301.0,850.4 L1301.3,851.9 L1301.5,853.3 L1301.7,854.8 L1301.9,856.3 L1302.1,857.8 L1302.3,859.3 L1302.6,860.8 L1302.8,862.3 L1303.0,863.7 L1303.2,865.2 L1303.4,866.7 L1303.6,868.2 L1303.9,869.7 L1304.1,871.2 L1304.3,872.6 L1304.5,874.1 L1304.7,875.6 L1304.9,877.1 L1305.2,878.6 L1305.4,880.1 L1305.6,881.6 L1305.8,883.0 L1306.0,884.5 L1306.2,886.0 L1306.4,887.5 L1306.7,889.0 L1306.9,890.5 L1307.1,891.9 L1307.3,893.4 L1307.5,894.9 L1307.7,896.4 L1307.9,897.9 L1308.2,899.4 L1308.4,900.9 L1308.6,902.3 L1308.8,903.8 L1309.0,905.3 L1309.2,906.8 L1309.4,908.3 L1309.7,909.8 L1309.9,911.3 L1310.1,912.7 L1310.3,914.2 L1310.5,915.7 L1310.7,917.2 L1310.9,918.7 L1311.2,920.2 L1311.4,921.7 L1311.6,923.1 L1311.8,924.6 L1312.0,926.1 L1312.2,927.6 L1312.4,929.1 L1312.6,930.6 L1312.9,932.1 L1313.1,933.5 L1313.3,935.0 L1313.5,936.5 L1313.7,938.0 L1313.9,939.5 L1314.1,941.0 L1314.3,942.5 L1314.5,943.9 L1314.8,945.4 L1315.0,946.9 L1315.2,948.4 L1315.4,949.9 L1315.6,951.4 L1315.8,952.9 L1316.0,954.3 L1316.2,955.8 L1316.4,957.3 L1316.6,958.8 L1316.9,960.3 L1317.1,961.8 L1317.3,963.3 L1317.5,964.7 L1317.7,966.2 L1317.9,967.7 L1318.1,969.2 L1318.3,970.7 L1318.5,972.2 L1318.7,973.7 L1319.0,975.1 L1319.2,976.6 L1319.4,978.1 L1319.6,979.6 L1319.8,981.1 L1320.0,982.6 L1320.2,984.1 L1320.4,985.6 L1320.6,987.0 L1320.8,988.5 L1321.0,990.0 L1321.3,991.5 L1321.5,993.0 L1321.7,994.5 L1321.9,996.0 L1322.1,997.4 L1322.3,998.9 L1322.5,1000.4 L1322.7,1001.9 L1322.9,1003.4 L1323.1,1004.9 L1323.3,1006.4 L1323.5,1007.8 L1323.8,1009.3 L1324.0,1010.8 L1324.2,1012.3 L1324.4,1013.8 L1324.6,1015.3 L1324.8,1016.8 L1325.0,1018.3 L1325.2,1019.7 L1325.4,1021.2 L1325.6,1022.7 L1325.8,1024.2 L1326.0,1025.7 L1326.2,1027.2 L1326.4,1028.7 L1326.7,1030.1 L1326.9,1031.6 L1327.1,1033.1 L1327.3,1034.6 L1327.5,1036.1 L1327.7,1037.6 L1327.9,1039.1 L1328.1,1040.6 L1328.3,1042.0 L1328.5,1043.5 L1328.7,1045.0 L1328.9,1046.5 L1329.1,1048.0 L1329.3,1049.5 L1329.5,1051.0 L1329.7,1052.4 L1330.0,1053.9 L1330.2,1055.4 L1330.4,1056.9 L1330.6,1058.4 L1330.8,1059.9 L1331.0,1061.4 L1331.2,1062.9 L1331.4,1064.3 L1331.6,1065.8 L1331.8,1067.3 L1332.0,1068.8 L1332.2,1070.3 L1332.4,1071.8 L1332.6,1073.3 L1332.8,1074.7 L1333.0,1076.2 L1333.2,1077.7 L1333.4,1079.2 L1333.7,1080.7 L1333.9,1082.2 L1334.1,1083.7 L1334.3,1085.2 L1334.5,1086.6 L1334.7,1088.1 L1334.9,1089.6 L1335.1,1091.1 L1335.3,1092.6 L1335.5,1094.1 L1335.7,1095.6 L1335.9,1097.0 L1336.1,1098.5 L1336.3,1100.0 L1336.5,1101.5 L1336.7,1103.0 L1336.9,1104.5 L1337.1,1106.0 L1337.3,1107.5 L1337.5,1108.9 L1337.7,1110.4 L1337.9,1111.9 L1338.2,1113.4 L1338.4,1114.9 L1338.6,1116.4 L1338.8,1117.9 L1339.0,1119.3 L1339.2,1120.8 L1339.4,1122.3 L1339.6,1123.8 L1339.8,1125.3 L1340.0,1126.8 L1340.2,1128.3 L1340.4,1129.8 L1340.6,1131.2 L1340.8,1132.7 L1341.0,1134.2 L1341.2,1135.7 L1341.4,1137.2 L1341.6,1138.7 L1341.8,1140.2 L1342.0,1141.6 L1342.2,1143.1 L1342.4,1144.6 L1342.6,1146.1 L1342.8,1147.6 L1343.0,1149.1 L1343.2,1150.6 L1343.5,1152.1 L1343.7,1153.5 L1343.9,1155.0 L1344.1,1156.5 L1344.3,1158.0 L1344.5,1159.5 L1344.7,1161.0 L1344.9,1162.5 L1345.1,1163.9 L1345.3,1165.4 L1345.5,1166.9 L1345.7,1168.4 L1345.9,1169.9 L1346.1,1171.4 L1346.3,1172.9 L1346.5,1174.4 L1346.7,1175.8 L1346.9,1177.3 L1347.1,1178.8 L1347.3,1180.3 L1347.5,1181.8 L1347.7,1183.3 L1347.9,1184.8 L1348.1,1186.2 L1348.3,1187.7 L1348.5,1189.2 L1348.7,1190.7 L1348.9,1192.2 L1349.1,1193.7 L1349.4,1195.2 L1349.6,1196.6 L1349.8,1198.1 L1350.0,1199.6 L1350.2,1201.1 L1350.4,1202.6 L1350.6,1204.1 L1350.8,1205.6 L1351.0,1207.0 L1351.2,1208.5 L1351.4,1210.0 L1351.6,1211.5 L1351.8,1213.0 L1352.0,1214.5 L1352.2,1216.0 L1352.4,1217.4 L1352.6,1218.9 L1352.8,1220.4 L1353.0,1221.9 L1353.2,1223.4 L1353.4,1224.9 L1353.6,1226.4 L1353.8,1227.8 L1354.0,1229.3 L1354.2,1230.8 L1354.4,1232.3 L1354.6,1233.8 L1354.8,1235.3 L1355.1,1236.8 L1355.3,1238.2 L1355.5,1239.7 L1355.7,1241.2 L1355.9,1242.7 L1356.1,1244.2 L1356.3,1245.7 L1356.5,1247.2 L1356.7,1248.6 L1356.9,1250.1 L1357.1,1251.6 L1357.3,1253.1 L1357.5,1254.6 L1357.7,1256.1 L1357.9,1257.6 L1358.1,1259.0 L1358.3,1260.5 L1358.5,1262.0 L1358.7,1263.5 L1358.9,1265.0 L1359.1,1266.5 L1359.3,1268.0 L1359.6,1269.4 L1359.8,1270.9 L1360.0,1272.4 L1360.2,1273.9 L1360.4,1275.4 L1360.6,1276.9 L1360.8,1278.4 L1361.0,1279.8 L1361.2,1281.3 L1361.4,1282.8 L1361.6,1284.3 L1361.8,1285.8 L1362.0,1287.3 L1362.2,1288.7 L1362.4,1290.2 L1362.6,1291.7 L1362.8,1293.2 L1363.1,1294.7 L1363.3,1296.2 L1363.5,1297.7 L1363.7,1299.1 L1363.9,1300.6 L1364.1,1302.1 L1364.3,1303.6 L1364.5,1305.1 L1364.7,1306.6 L1364.9,1308.0 L1365.1,1309.5 L1365.3,1311.0 L1365.5,1312.5 L1365.8,1314.0 L1366.0,1315.5 L1366.2,1316.9 L1366.4,1318.4 L1366.6,1319.9 L1366.8,1321.4 L1367.0,1322.9 L1367.2,1324.4 L1367.4,1325.9 L1367.6,1327.3 L1367.8,1328.8 L1368.1,1330.3 L1368.3,1331.8 L1368.5,1333.3 L1368.7,1334.8 L1368.9,1336.2 L1369.1,1337.7 L1369.3,1339.2 L1369.5,1340.7 L1369.7,1342.2 L1369.9,1343.7 L1370.2,1345.1 L1370.4,1346.6 L1370.6,1348.1 L1370.8,1349.6 L1371.0,1351.1 L1371.2,1352.6 L1371.4,1354.0 L1371.6,1355.5 L1371.8,1357.0 L1372.1,1358.5 L1372.3,1360.0 L1372.5,1361.5 L1372.7,1362.9 L1372.9,1364.4 L1373.1,1365.9 L1373.3,1367.4 L1373.6,1368.9 L1373.8,1370.4 L1374.0,1371.8 L1374.2,1373.3 L1374.4,1374.8 L1374.6,1376.3 L1374.8,1377.8 L1375.1,1379.3 L1375.3,1380.7 L1375.5,1382.2 L1375.7,1383.7 L1375.9,1385.2 L1376.1,1386.7 L1376.3,1388.1 L1376.6,1389.6 L1376.8,1391.1 L1377.0,1392.6 L1377.2,1394.1 L1377.4,1395.6 L1377.6,1397.0 L1377.9,1398.5 L1378.1,1400.0 L1378.3,1401.5 L1378.5,1403.0 L1378.7,1404.5 L1379.0,1405.9 L1379.2,1407.4 L1379.4,1408.9 L1379.6,1410.4 L1379.8,1411.9 L1380.0,1413.3 L1380.3,1414.8 L1380.5,1416.3 L1380.7,1417.8 L1380.9,1419.3 L1381.1,1420.8 L1381.4,1422.2 L1381.6,1423.7 L1381.8,1425.2 L1382.0,1426.7 L1382.2,1428.2 L1382.5,1429.6 L1382.7,1431.1 L1382.9,1432.6 L1383.1,1434.1 L1383.4,1435.6 L1383.6,1437.0 L1383.8,1438.5 L1384.0,1440.0 L1384.3,1441.5 L1384.5,1443.0 L1384.7,1444.5 L1384.9,1445.9 L1385.1,1447.4 L1385.4,1448.9 L1385.6,1450.4 L1385.8,1451.9 L1386.0,1453.3 L1386.3,1454.8 L1386.5,1456.3 L1386.7,1457.8 L1386.9,1459.3 L1387.2,1460.7 L1387.4,1462.2 L1387.6,1463.7 L1387.8,1465.2 L1388.1,1466.7 L1388.3,1468.1 L1388.5,1469.6 L1388.7,1471.1 L1389.0,1472.6 L1389.2,1474.1 L1389.4,1475.5 L1389.6,1477.0 L1389.8,1478.5 L1390.1,1480.0 L1390.3,1481.5 L1390.5,1483.0 L1390.7,1484.4 L1390.9,1485.9 L1391.2,1487.4 L1391.4,1488.9 L1391.6,1490.4 L1391.8,1491.8 L1392.0,1493.3 L1392.3,1494.8 L1392.5,1496.3 L1392.7,1497.8 L1392.9,1499.3 L1393.1,1500.7 L1393.3,1502.2 L1393.5,1503.7 L1393.8,1505.2 L1394.0,1506.7 L1394.2,1508.2 L1394.4,1509.6 L1394.6,1511.1 L1394.8,1512.6 L1395.0,1514.1 L1395.2,1515.6 L1395.4,1517.1 L1395.6,1518.6 L1395.8,1520.0 L1396.0,1521.5 L1396.2,1523.0 L1396.4,1524.5 L1396.6,1526.0 L1396.8,1527.5 L1397.0,1529.0 L1397.2,1530.4 L1397.4,1531.9 L1397.6,1533.4 L1397.8,1534.9 L1398.0,1536.4 L1398.2,1537.9 L1398.4,1539.4 L1398.6,1540.9 L1398.8,1542.3 L1399.0,1543.8 L1399.2,1545.3 L1399.3,1546.8 L1399.5,1548.3 L1399.7,1549.8 L1399.9,1551.3 L1400.1,1552.8 L1400.2,1554.3 L1400.4,1555.8 L1400.6,1557.3 L1400.8,1558.7 L1400.9,1560.2 L1401.1,1561.7 L1401.3,1563.2 L1401.5,1564.7 L1401.6,1566.2 L1401.8,1567.7 L1401.9,1569.2 L1402.1,1570.7 L1402.3,1572.2 L1402.4,1573.7 L1402.6,1575.2 L1402.7,1576.7 L1402.9,1578.2 L1403.0,1579.7 L1403.2,1581.2 L1403.3,1582.7 L1403.5,1584.2 L1403.6,1585.7 L1403.8,1587.2 L1403.9,1588.7 L1404.1,1590.2 L1404.2,1591.7 L1404.3,1593.2 L1404.5,1594.7 L1404.6,1596.2 L1404.7,1597.7 L1404.9,1599.2 L1405.0,1600.7 L1405.1,1602.2 L1405.2,1603.7 L1405.4,1605.2 L1405.5,1606.7 L1405.6,1608.2 L1405.7,1609.7 L1405.8,1611.2 L1405.9,1612.7 L1406.0,1614.2 L1406.1,1615.7 L1406.2,1617.2 L1406.3,1618.7 L1406.4,1620.3 L1406.5,1621.8 L1406.6,1623.3 L1406.7,1624.8 L1406.8,1626.3 L1406.9,1627.8 L1407.0,1629.3 L1407.1,1630.8 L1407.2,1632.3 L1407.3,1633.8 L1407.4,1635.4 L1407.4,1636.9 L1407.5,1638.4 L1407.6,1639.9 L1407.7,1641.4 L1407.8,1642.9 L1407.9,1644.4 L1408.0,1645.9 L1408.1,1647.4 L1408.2,1648.9 L1408.3,1650.5 L1408.4,1652.0 L1408.5,1653.5 L1408.6,1655.0 L1408.7,1656.5 L1408.8,1658.0 L1408.9,1659.5 L1409.0,1661.0 L1409.1,1662.5 L1409.2,1664.0 L1409.3,1665.5 L1409.5,1667.0 L1409.6,1668.5 L1409.7,1670.0 L1409.9,1671.5 L1410.0,1673.0 L1410.1,1674.5 L1410.3,1676.0 L1410.4,1677.5 L1410.6,1679.0 L1410.7,1680.4 L1410.9,1681.9 L1411.1,1683.4 L1411.2,1684.9 L1411.4,1686.4 L1411.6,1687.9 L1411.8,1689.4 L1412.0,1690.8 L1412.2,1692.3 L1412.4,1693.8 L1412.6,1695.3 L1412.8,1696.7 L1413.1,1698.2 L1413.3,1699.7 L1413.5,1701.1 L1413.8,1702.6 L1414.0,1704.1 L1414.3,1705.5 L1414.6,1707.0 L1414.9,1708.4 L1415.2,1709.9 L1415.4,1711.3 L1415.8,1712.8 L1416.1,1714.2 L1416.4,1715.7 L1416.7,1717.1 L1417.1,1718.6 L1417.4,1720.0 L1417.8,1721.4 L1418.1,1722.9 L1418.5,1724.3 L1418.9,1725.7 L1419.3,1727.1 L1419.7,1728.6 L1420.1,1730.0 L1420.5,1731.4 L1421.0,1732.8 L1421.4,1734.2 L1421.9,1735.6 L1422.3,1737.0 L1422.8,1738.4 L1423.3,1739.8 L1423.8,1741.2 L1424.3,1742.6 L1424.9,1744.0 L1425.4,1745.4 L1426.0,1746.8 L1426.5,1748.1 L1427.1,1749.5 L1427.7,1750.9 L1428.3,1752.3 L1428.9,1753.6 L1429.5,1755.0 L1430.2,1756.3 L1430.8,1757.7 L1431.5,1759.0 L1432.2,1760.4 L1432.9,1761.7 L1433.6,1763.1 L1434.3,1764.4 L1435.1,1765.7 L1435.8,1767.1 L1436.6,1768.4 L1437.4,1769.7 L1438.2,1771.0" stroke="#4472c4" stroke-width="9" fill="none" stroke-linejoin="round" stroke-linecap="round"/>
<path d="M590.0,1786.0 L591.4,1785.8 L592.8,1785.6 L594.2,1785.5 L595.7,1785.4 L597.2,1785.4 L598.8,1785.3 L600.3,1785.3 L601.9,1785.3 L603.4,1785.3 L605.0,1785.2 L606.5,1785.2 L608.1,1785.1 L609.7,1785.1 L611.2,1785.0 L612.7,1784.8 L614.2,1784.6 L615.6,1784.4 L617.1,1784.1 L618.5,1783.7 L619.8,1783.3 L621.1,1782.8 L622.4,1782.2 L623.6,1781.6 L624.7,1780.8 L625.8,1780.0 L626.8,1779.0 L627.7,1777.9 L628.6,1776.7 L629.3,1775.4 L630.1,1774.0 L630.7,1772.6 L631.3,1771.0 L631.9,1769.4 L632.4,1767.8 L632.9,1766.1 L633.3,1764.4 L633.7,1762.7 L634.1,1761.0 L634.5,1759.3 L634.9,1757.6 L635.3,1756.0 L635.7,1754.4 L636.0,1752.8 L636.4,1751.2 L636.8,1749.7 L637.1,1748.2 L637.5,1746.7 L637.9,1745.2 L638.2,1743.8 L638.6,1742.3 L638.9,1740.9 L639.3,1739.5 L639.7,1738.1 L640.0,1736.7 L640.4,1735.3 L640.7,1733.9 L641.1,1732.5 L641.4,1731.2 L641.8,1729.8 L642.2,1728.4 L642.5,1727.0 L642.9,1725.7 L643.3,1724.3 L643.6,1722.9 L644.0,1721.5 L644.4,1720.1 L644.8,1718.7 L645.2,1717.2 L645.5,1715.8 L645.9,1714.4 L646.3,1713.0 L646.7,1711.5 L647.1,1710.1 L647.5,1708.6 L647.9,1707.2 L648.3,1705.8 L648.6,1704.3 L649.0,1702.9 L649.4,1701.4 L649.8,1700.0 L650.2,1698.5 L650.6,1697.0 L651.0,1695.6 L651.3,1694.1 L651.7,1692.7 L652.1,1691.2 L652.5,1689.8 L652.9,1688.3 L653.2,1686.9 L653.6,1685.4 L654.0,1683.9 L654.3,1682.5 L654.7,1681.0 L655.1,1679.6 L655.4,1678.1 L655.8,1676.7 L656.2,1675.2 L656.5,1673.7 L656.9,1672.3 L657.2,1670.8 L657.6,1669.4 L658.0,1667.9 L658.3,1666.4 L658.7,1665.0 L659.0,1663.5 L659.4,1662.0 L659.7,1660.6 L660.1,1659.1 L660.4,1657.7 L660.8,1656.2 L661.1,1654.7 L661.4,1653.3 L661.8,1651.8 L662.1,1650.3 L662.5,1648.9 L662.8,1647.4 L663.1,1646.0 L663.5,1644.5 L663.8,1643.0 L664.2,1641.6 L664.5,1640.1 L664.8,1638.6 L665.2,1637.2 L665.5,1635.7 L665.8,1634.2 L666.2,1632.8 L666.5,1631.3 L666.8,1629.8 L667.1,1628.4 L667.5,1626.9 L667.8,1625.4 L668.1,1624.0 L668.4,1622.5 L668.8,1621.1 L669.1,1619.6 L669.4,1618.1 L669.7,1616.7 L670.1,1615.2 L670.4,1613.7 L670.7,1612.3 L671.0,1610.8 L671.3,1609.3 L671.7,1607.9 L672.0,1606.4 L672.3,1604.9 L672.6,1603.5 L672.9,1602.0 L673.3,1600.5 L673.6,1599.0 L673.9,1597.6 L674.2,1596.1 L674.5,1594.6 L674.8,1593.2 L675.2,1591.7 L675.5,1590.2 L675.8,1588.8 L676.1,1587.3 L676.4,1585.8 L676.7,1584.4 L677.1,1582.9 L677.4,1581.4 L677.7,1580.0 L678.0,1578.5 L678.3,1577.0 L678.6,1575.6 L678.9,1574.1 L679.3,1572.6 L679.6,1571.2 L679.9,1569.7 L680.2,1568.2 L680.5,1566.8 L680.8,1565.3 L681.2,1563.8 L681.5,1562.4 L681.8,1560.9 L682.1,1559.4 L682.4,1558.0 L682.7,1556.5 L683.1,1555.0 L683.4,1553.6 L683.7,1552.1 L684.0,1550.6 L684.3,1549.2 L684.6,1547.7 L685.0,1546.3 L685.3,1544.8 L685.6,1543.3 L685.9,1541.9 L686.2,1540.4 L686.6,1538.9 L686.9,1537.5 L687.2,1536.0 L687.5,1534.5 L687.9,1533.1 L688.2,1531.6 L688.5,1530.2 L688.8,1528.7 L689.2,1527.2 L689.5,1525.8 L689.8,1524.3 L690.1,1522.8 L690.5,1521.4 L690.8,1519.9 L691.1,1518.5 L691.5,1517.0 L691.8,1515.5 L692.1,1514.1 L692.4,1512.6 L692.8,1511.2 L693.1,1509.7 L693.5,1508.2 L693.8,1506.8 L694.1,1505.3 L694.5,1503.9 L694.8,1502.4 L695.1,1500.9 L695.5,1499.5 L695.8,1498.0 L696.2,1496.6 L696.5,1495.1 L696.9,1493.7 L697.2,1492.2 L697.6,1490.7 L697.9,1489.3 L698.3,1487.8 L698.6,1486.4 L699.0,1484.9 L699.3,1483.5 L699.7,1482.0 L700.0,1480.6 L700.4,1479.1 L700.8,1477.7 L701.1,1476.2 L701.5,1474.7 L701.8,1473.3 L702.2,1471.8 L702.6,1470.4 L702.9,1468.9 L703.3,1467.5 L703.7,1466.0 L704.1,1464.6 L704.4,1463.1 L704.8,1461.7 L705.2,1460.3 L705.6,1458.8 L705.9,1457.4 L706.3,1455.9 L706.7,1454.5 L707.1,1453.0 L707.5,1451.6 L707.9,1450.1 L708.3,1448.7 L708.7,1447.2 L709.1,1445.8 L709.5,1444.4 L709.9,1442.9 L710.3,1441.5 L710.7,1440.0 L711.1,1438.6 L711.5,1437.2 L711.9,1435.7 L712.3,1434.3 L712.7,1432.8 L713.1,1431.4 L713.6,1430.0 L714.0,1428.5 L714.4,1427.1 L714.8,1425.7 L715.3,1424.2 L715.7,1422.8 L716.1,1421.4 L716.6,1419.9 L717.0,1418.5 L717.5,1417.1 L717.9,1415.6 L718.4,1414.2 L718.8,1412.8 L719.3,1411.3 L719.7,1409.9 L720.2,1408.5 L720.7,1407.1 L721.1,1405.6 L721.6,1404.2 L722.1,1402.8 L722.6,1401.4 L723.1,1399.9 L723.5,1398.5 L724.0,1397.1 L724.5,1395.7 L725.0,1394.3 L725.5,1392.8 L726.0,1391.4 L726.5,1390.0 L727.0,1388.6 L727.5,1387.2 L728.1,1385.8 L728.6,1384.4 L729.1,1382.9 L729.6,1381.5 L730.2,1380.1 L730.7,1378.7 L731.2,1377.3 L731.8,1375.9 L732.3,1374.5 L732.9,1373.1 L733.4,1371.7 L734.0,1370.3 L734.5,1368.9 L735.1,1367.5 L735.7,1366.1 L736.3,1364.7 L736.8,1363.3 L737.4,1361.9 L738.0,1360.5 L738.6,1359.1 L739.2,1357.7 L739.8,1356.3 L740.5,1355.0 L741.1,1353.6 L741.7,1352.2 L742.4,1350.9 L743.0,1349.5 L743.7,1348.1 L744.3,1346.8 L745.0,1345.4 L745.7,1344.1 L746.4,1342.8 L747.0,1341.4 L747.8,1340.1 L748.5,1338.8 L749.2,1337.5 L749.9,1336.2 L750.7,1334.9 L751.4,1333.6 L752.2,1332.3 L752.9,1331.0 L753.7,1329.8 L754.5,1328.5 L755.3,1327.3 L756.1,1326.0 L756.9,1324.8 L757.8,1323.6 L758.6,1322.4 L759.5,1321.2 L760.3,1320.0 L761.2,1318.8 L762.1,1317.6 L763.0,1316.4 L764.0,1315.3 L764.9,1314.1 L765.8,1313.0 L766.8,1311.9 L767.8,1310.8 L768.8,1309.7 L769.8,1308.6 L770.8,1307.5 L771.8,1306.4 L772.8,1305.4 L773.9,1304.4 L775.0,1303.3 L776.1,1302.3 L777.2,1301.3 L778.3,1300.3 L779.4,1299.4 L780.5,1298.4 L781.7,1297.4 L782.9,1296.5 L784.0,1295.5 L785.2,1294.6 L786.4,1293.6 L787.6,1292.7 L788.7,1291.8 L789.9,1290.8 L791.1,1289.9 L792.3,1289.0 L793.5,1288.1 L794.7,1287.1 L795.9,1286.2 L797.1,1285.3 L798.3,1284.4 L799.5,1283.4 L800.7,1282.5 L801.9,1281.5 L803.0,1280.6 L804.2,1279.6 L805.4,1278.6 L806.5,1277.7 L807.7,1276.7 L808.8,1275.7 L809.9,1274.7 L811.0,1273.7 L812.1,1272.6 L813.2,1271.6 L814.3,1270.5 L815.3,1269.4 L816.4,1268.3 L817.4,1267.2 L818.4,1266.1 L819.4,1265.0 L820.4,1263.8 L821.3,1262.6 L822.3,1261.5 L823.2,1260.3 L824.1,1259.1 L825.1,1257.9 L826.0,1256.7 L826.9,1255.5 L827.8,1254.2 L828.7,1253.0 L829.6,1251.8 L830.4,1250.5 L831.3,1249.3 L832.2,1248.0 L833.1,1246.8 L833.9,1245.6 L834.8,1244.3 L835.7,1243.1 L836.6,1241.9 L837.4,1240.6 L838.3,1239.4 L839.2,1238.2 L840.1,1237.0 L841.0,1235.8 L841.9,1234.6 L842.8,1233.4 L843.7,1232.2 L844.6,1231.1 L845.6,1229.9 L846.5,1228.8 L847.5,1227.7 L848.4,1226.6 L849.4,1225.5 L850.4,1224.4 L851.4,1223.4 L852.5,1222.4 L853.5,1221.3 L854.6,1220.4 L855.7,1219.4 L856.8,1218.5 L857.9,1217.5 L859.1,1216.6 L860.2,1215.8 L861.4,1214.9 L862.6,1214.1 L863.9,1213.3 L865.1,1212.6 L866.4,1211.8 L867.7,1211.1 L869.1,1210.5 L870.4,1209.8 L871.8,1209.2 L873.2,1208.6 L874.5,1208.0 L876.0,1207.5 L877.4,1207.0 L878.8,1206.5 L880.2,1206.0 L881.7,1205.5 L883.1,1205.1 L884.6,1204.7 L886.0,1204.3 L887.5,1203.9 L888.9,1203.5 L890.4,1203.2 L891.8,1202.8 L893.2,1202.5 L894.7,1202.2 L896.1,1201.9 L897.5,1201.7 L898.9,1201.4 L900.3,1201.1 L901.6,1200.8 L903.0,1200.5 L904.3,1200.2 L905.6,1199.9 L907.0,1199.5 L908.2,1199.1 L909.5,1198.6 L910.8,1198.1 L912.0,1197.6 L913.2,1197.0 L914.4,1196.3 L915.6,1195.5 L916.7,1194.7 L917.9,1193.8 L919.0,1192.9 L920.1,1191.9 L921.2,1190.9 L922.3,1189.9 L923.4,1188.8 L924.5,1187.7 L925.5,1186.6 L926.6,1185.4 L927.7,1184.3 L928.8,1183.2 L929.9,1182.0 L930.9,1180.9 L932.0,1179.8 L933.2,1178.6 L934.3,1177.5 L935.4,1176.5 L936.5,1175.4 L937.7,1174.3 L938.8,1173.2 L939.9,1172.2 L941.1,1171.1 L942.2,1170.1 L943.4,1169.1 L944.5,1168.0 L945.7,1167.0 L946.8,1166.0 L948.0,1165.0 L949.2,1164.0 L950.3,1163.0 L951.5,1162.0 L952.6,1161.0 L953.7,1160.0 L954.9,1159.0 L956.0,1158.0 L957.1,1157.0 L958.3,1155.9 L959.4,1154.9 L960.5,1153.9 L961.6,1152.9 L962.7,1151.9 L963.7,1150.9 L964.8,1149.8 L965.9,1148.8 L966.9,1147.8 L967.9,1146.7 L968.9,1145.7 L969.9,1144.6 L970.9,1143.5 L971.9,1142.5 L972.9,1141.4 L973.8,1140.3 L974.7,1139.2 L975.6,1138.0 L976.5,1136.9 L977.4,1135.7 L978.3,1134.6 L979.1,1133.4 L979.9,1132.2 L980.7,1131.0 L981.4,1129.8 L982.2,1128.5 L982.9,1127.3 L983.6,1126.0 L984.3,1124.7 L985.0,1123.4 L985.6,1122.1 L986.3,1120.8 L986.9,1119.5 L987.5,1118.1 L988.1,1116.8 L988.7,1115.4 L989.3,1114.0 L989.9,1112.7 L990.4,1111.3 L991.0,1109.9 L991.5,1108.5 L992.1,1107.1 L992.7,1105.7 L993.2,1104.3 L993.8,1102.9 L994.3,1101.5 L994.9,1100.1 L995.4,1098.7 L996.0,1097.3 L996.6,1095.9 L997.1,1094.5 L997.7,1093.1 L998.3,1091.8 L998.9,1090.4 L999.5,1089.0 L1000.1,1087.6 L1000.8,1086.3 L1001.4,1084.9 L1002.1,1083.5 L1002.8,1082.2 L1003.5,1080.9 L1004.2,1079.6 L1005.0,1078.2 L1005.7,1076.9 L1006.5,1075.7 L1007.3,1074.4 L1008.2,1073.1 L1009.0,1071.9 L1009.9,1070.7 L1010.8,1069.5 L1011.8,1068.3 L1012.8,1067.1 L1013.8,1065.9 L1014.8,1064.8 L1015.9,1063.7 L1017.0,1062.6 L1018.2,1061.5 L1019.3,1060.4 L1020.6,1059.4 L1021.8,1058.4 L1023.1,1057.4 L1024.5,1056.5 L1025.8,1055.6 L1027.2,1054.7 L1028.6,1053.9 L1030.0,1053.1 L1031.5,1052.4 L1032.9,1051.8 L1034.3,1051.3 L1035.7,1050.8 L1037.1,1050.5 L1038.5,1050.2 L1039.9,1050.0 L1041.3,1050.0 L1042.6,1050.0 L1043.9,1050.2 L1045.1,1050.5 L1046.4,1050.9 L1047.5,1051.5 L1048.7,1052.1 L1049.8,1052.8 L1050.9,1053.6 L1051.9,1054.5 L1052.9,1055.5 L1053.8,1056.5 L1054.8,1057.6 L1055.7,1058.8 L1056.5,1060.0 L1057.3,1061.2 L1058.1,1062.5 L1058.9,1063.8 L1059.6,1065.1 L1060.3,1066.4 L1061.0,1067.8 L1061.6,1069.2 L1062.2,1070.6 L1062.8,1072.0 L1063.4,1073.4 L1064.0,1074.9 L1064.6,1076.4 L1065.1,1077.8 L1065.7,1079.3 L1066.2,1080.8 L1066.7,1082.2 L1067.3,1083.7 L1067.8,1085.2 L1068.3,1086.6 L1068.9,1088.1 L1069.5,1089.5 L1070.0,1091.0 L1070.6,1092.4 L1071.2,1093.8 L1071.8,1095.2 L1072.4,1096.5 L1073.1,1097.9 L1073.8,1099.2 L1074.4,1100.5 L1075.1,1101.8 L1075.8,1103.1 L1076.5,1104.4 L1077.2,1105.7 L1077.9,1106.9 L1078.7,1108.2 L1079.4,1109.5 L1080.1,1110.7 L1080.8,1112.0 L1081.5,1113.3 L1082.2,1114.6 L1082.9,1115.9 L1083.6,1117.2 L1084.2,1118.5 L1084.9,1119.9 L1085.5,1121.2 L1086.1,1122.6 L1086.7,1124.0 L1087.3,1125.4 L1087.9,1126.8 L1088.4,1128.3 L1089.0,1129.7 L1089.6,1131.1 L1090.1,1132.6 L1090.7,1134.0 L1091.3,1135.5 L1091.9,1137.0 L1092.5,1138.4 L1093.1,1139.9 L1093.7,1141.3 L1094.4,1142.8 L1095.1,1144.2 L1095.8,1145.6 L1096.5,1147.1 L1097.2,1148.5 L1098.0,1149.9 L1098.8,1151.3 L1099.7,1152.6 L1100.5,1154.0 L1101.4,1155.3 L1102.4,1156.5 L1103.3,1157.6 L1104.3,1158.6 L1105.3,1159.5 L1106.2,1160.3 L1107.2,1160.9 L1108.2,1161.3 L1109.2,1161.5 L1110.2,1161.5 L1111.1,1161.2 L1112.1,1160.8 L1113.0,1160.2 L1113.9,1159.5 L1114.8,1158.5 L1115.7,1157.5 L1116.6,1156.3 L1117.4,1155.0 L1118.3,1153.6 L1119.1,1152.1 L1119.9,1150.6 L1120.7,1149.0 L1121.4,1147.3 L1122.2,1145.7 L1122.9,1144.0 L1123.6,1142.3 L1124.3,1140.7 L1125.0,1139.0 L1125.6,1137.4 L1126.2,1135.8 L1126.8,1134.2 L1127.4,1132.7 L1127.9,1131.1 L1128.5,1129.6 L1129.0,1128.1 L1129.5,1126.6 L1130.0,1125.1 L1130.4,1123.6 L1130.9,1122.1 L1131.3,1120.7 L1131.7,1119.2 L1132.1,1117.8 L1132.5,1116.3 L1132.9,1114.9 L1133.3,1113.5 L1133.7,1112.1 L1134.0,1110.7 L1134.3,1109.3 L1134.7,1107.9 L1135.0,1106.5 L1135.3,1105.1 L1135.6,1103.7 L1135.9,1102.3 L1136.2,1100.9 L1136.5,1099.5 L1136.8,1098.1 L1137.0,1096.7 L1137.3,1095.3 L1137.6,1093.9 L1137.8,1092.5 L1138.1,1091.1 L1138.3,1089.6 L1138.6,1088.2 L1138.9,1086.8 L1139.1,1085.4 L1139.3,1083.9 L1139.6,1082.5 L1139.8,1081.1 L1140.1,1079.6 L1140.3,1078.2 L1140.5,1076.7 L1140.8,1075.3 L1141.0,1073.8 L1141.2,1072.4 L1141.5,1070.9 L1141.7,1069.5 L1141.9,1068.0 L1142.1,1066.5 L1142.3,1065.1 L1142.6,1063.6 L1142.8,1062.1 L1143.0,1060.7 L1143.2,1059.2 L1143.4,1057.7 L1143.6,1056.2 L1143.8,1054.7 L1144.0,1053.2 L1144.2,1051.8 L1144.4,1050.3 L1144.6,1048.8 L1144.8,1047.3 L1145.0,1045.8 L1145.2,1044.3 L1145.4,1042.8 L1145.6,1041.3 L1145.8,1039.8 L1146.0,1038.3 L1146.2,1036.8 L1146.4,1035.3 L1146.6,1033.8 L1146.8,1032.3 L1147.0,1030.8 L1147.2,1029.3 L1147.4,1027.7 L1147.6,1026.2 L1147.8,1024.7 L1148.0,1023.2 L1148.2,1021.7 L1148.4,1020.2 L1148.6,1018.7 L1148.8,1017.2 L1149.0,1015.7 L1149.2,1014.2 L1149.4,1012.6 L1149.6,1011.1 L1149.8,1009.6 L1150.0,1008.1 L1150.2,1006.6 L1150.4,1005.1 L1150.6,1003.6 L1150.8,1002.1 L1151.1,1000.6 L1151.3,999.1 L1151.5,997.6 L1151.7,996.0 L1151.9,994.5 L1152.1,993.0 L1152.4,991.5 L1152.6,990.0 L1152.8,988.5 L1153.0,987.0 L1153.3,985.5 L1153.5,984.0 L1153.7,982.6 L1154.0,981.1 L1154.2,979.6 L1154.4,978.1 L1154.7,976.6 L1154.9,975.1 L1155.2,973.6 L1155.4,972.1 L1155.7,970.7 L1155.9,969.2 L1156.2,967.7 L1156.4,966.2 L1156.7,964.7 L1156.9,963.3 L1157.2,961.8 L1157.5,960.3 L1157.7,958.8 L1158.0,957.4 L1158.2,955.9 L1158.5,954.4 L1158.8,952.9 L1159.0,951.5 L1159.3,950.0 L1159.6,948.5 L1159.9,947.1 L1160.1,945.6 L1160.4,944.1 L1160.7,942.7 L1161.0,941.2 L1161.2,939.8 L1161.5,938.3 L1161.8,936.8 L1162.1,935.4 L1162.4,933.9 L1162.7,932.4 L1162.9,931.0 L1163.2,929.5 L1163.5,928.1 L1163.8,926.6 L1164.1,925.1 L1164.4,923.7 L1164.7,922.2 L1164.9,920.8 L1165.2,919.3 L1165.5,917.9 L1165.8,916.4 L1166.1,914.9 L1166.4,913.5 L1166.7,912.0 L1167.0,910.6 L1167.3,909.1 L1167.5,907.7 L1167.8,906.2 L1168.1,904.7 L1168.4,903.3 L1168.7,901.8 L1169.0,900.4 L1169.3,898.9 L1169.6,897.4 L1169.9,896.0 L1170.2,894.5 L1170.4,893.1 L1170.7,891.6 L1171.0,890.1 L1171.3,888.7 L1171.6,887.2 L1171.9,885.8 L1172.2,884.3 L1172.5,882.8 L1172.7,881.4 L1173.0,879.9 L1173.3,878.4 L1173.6,877.0 L1173.9,875.5 L1174.2,874.0 L1174.4,872.6 L1174.7,871.1 L1175.0,869.6 L1175.3,868.2 L1175.5,866.7 L1175.8,865.2 L1176.1,863.7 L1176.4,862.3 L1176.6,860.8 L1176.9,859.3 L1177.2,857.8 L1177.4,856.4 L1177.7,854.9 L1178.0,853.4 L1178.2,851.9 L1178.5,850.4 L1178.7,848.9 L1179.0,847.4 L1179.3,846.0 L1179.5,844.5 L1179.8,843.0 L1180.0,841.5 L1180.3,840.0 L1180.5,838.5 L1180.8,837.0 L1181.0,835.5 L1181.2,834.0 L1181.5,832.5 L1181.7,831.0 L1182.0,829.5 L1182.2,828.0 L1182.4,826.5 L1182.6,825.0 L1182.9,823.4 L1183.1,821.9 L1183.3,820.4 L1183.5,818.9 L1183.8,817.4 L1184.0,815.9 L1184.2,814.3 L1184.4,812.8 L1184.6,811.3 L1184.8,809.8 L1185.0,808.2 L1185.3,806.7 L1185.5,805.2 L1185.8,803.7 L1186.0,802.2 L1186.3,800.7 L1186.6,799.2 L1186.9,797.7 L1187.2,796.2 L1187.5,794.7 L1187.9,793.3 L1188.3,791.8 L1188.7,790.4 L1189.1,789.0 L1189.6,787.6 L1190.1,786.2 L1190.6,784.8 L1191.1,783.4 L1191.7,782.0 L1192.3,780.7 L1193.0,779.4 L1193.7,778.1 L1194.4,776.8 L1195.2,775.6 L1196.0,774.3 L1196.9,773.1 L1197.8,771.9 L1198.8,770.7 L1199.8,769.6 L1200.9,768.5 L1201.9,767.4 L1203.1,766.5 L1204.2,765.6 L1205.4,764.7 L1206.6,764.0 L1207.8,763.4 L1209.0,763.0 L1210.2,762.6 L1211.3,762.5 L1212.5,762.4 L1213.7,762.5 L1214.9,762.7 L1216.0,763.0 L1217.2,763.5 L1218.3,764.0 L1219.4,764.7 L1220.5,765.5 L1221.7,766.3 L1222.7,767.2 L1223.8,768.2 L1224.9,769.3 L1225.9,770.5 L1227.0,771.7 L1228.0,772.9 L1229.0,774.3 L1230.0,775.6 L1230.9,777.0 L1231.9,778.4 L1232.8,779.9 L1233.7,781.4 L1234.6,782.9 L1235.5,784.4 L1236.3,785.9 L1237.1,787.4 L1237.9,788.9 L1238.7,790.4 L1239.5,791.8 L1240.2,793.3 L1241.0,794.7 L1241.7,796.1 L1242.5,797.5 L1243.2,798.9 L1244.0,800.2 L1244.7,801.5 L1245.5,802.7 L1246.3,803.9 L1247.1,805.1 L1248.0,806.2 L1248.9,807.3 L1249.8,808.3 L1250.8,809.2 L1251.8,810.1 L1252.9,811.0 L1254.0,811.7 L1255.2,812.4 L1256.5,813.1 L1257.8,813.6 L1259.1,814.1 L1260.5,814.5 L1261.9,814.8 L1263.3,815.0 L1264.6,815.1 L1266.0,815.1 L1267.3,814.9 L1268.6,814.7 L1269.9,814.4 L1271.1,814.0 L1272.3,813.5 L1273.5,812.9 L1274.7,812.2 L1275.8,811.5 L1276.9,810.7 L1278.0,809.8 L1279.1,808.8 L1280.2,807.8 L1281.3,806.7 L1282.3,805.6 L1283.4,804.5 L1284.4,803.3 L1285.4,802.0 L1286.5,800.8 L1287.5,799.5 L1288.5,798.1 L1289.5,796.8 L1290.5,795.4 L1291.6,794.0 L1292.6,792.6 L1293.6,791.3 L1294.6,789.9 L1295.7,788.5 L1296.7,787.1 L1297.8,785.8 L1298.8,784.5 L1299.9,783.2 L1300.9,782.0 L1302.0,780.8 L1303.1,779.7 L1304.2,778.6 L1305.3,777.6 L1306.4,776.7 L1307.5,775.9 L1308.6,775.1 L1309.7,774.4 L1310.8,773.9 L1312.0,773.4 L1313.1,773.1 L1314.3,772.9 L1315.4,772.8 L1316.6,772.8 L1317.8,773.0 L1319.0,773.3 L1320.2,773.7 L1321.3,774.3 L1322.5,774.9 L1323.7,775.7 L1324.9,776.5 L1326.0,777.4 L1327.2,778.4 L1328.3,779.5 L1329.4,780.6 L1330.5,781.8 L1331.5,783.1 L1332.6,784.3 L1333.5,785.6 L1334.5,786.9 L1335.4,788.2 L1336.3,789.6 L1337.1,790.9 L1337.9,792.3 L1338.6,793.6 L1339.3,795.0 L1340.0,796.3 L1340.7,797.7 L1341.3,799.1 L1341.9,800.5 L1342.5,801.9 L1343.1,803.3 L1343.6,804.6 L1344.2,806.0 L1344.7,807.4 L1345.2,808.9 L1345.7,810.3 L1346.2,811.7 L1346.7,813.1 L1347.1,814.5 L1347.6,815.9 L1348.0,817.4 L1348.5,818.8 L1348.9,820.2 L1349.3,821.7 L1349.8,823.1 L1350.2,824.5 L1350.6,826.0 L1351.0,827.4 L1351.3,828.9 L1351.7,830.3 L1352.1,831.8 L1352.5,833.2 L1352.8,834.7 L1353.2,836.2 L1353.5,837.6 L1353.9,839.1 L1354.2,840.5 L1354.5,842.0 L1354.8,843.5 L1355.2,844.9 L1355.5,846.4 L1355.8,847.9 L1356.1,849.3 L1356.4,850.8 L1356.7,852.3 L1357.0,853.8 L1357.3,855.2 L1357.6,856.7 L1357.9,858.2 L1358.2,859.7 L1358.5,861.1 L1358.7,862.6 L1359.0,864.1 L1359.3,865.6 L1359.6,867.1 L1359.9,868.5 L1360.1,870.0 L1360.4,871.5 L1360.7,873.0 L1361.0,874.4 L1361.3,875.9 L1361.5,877.4 L1361.8,878.9 L1362.1,880.3 L1362.4,881.8 L1362.7,883.3 L1362.9,884.8 L1363.2,886.2 L1363.5,887.7 L1363.8,889.2 L1364.1,890.6 L1364.3,892.1 L1364.6,893.6 L1364.9,895.1 L1365.2,896.5 L1365.5,898.0 L1365.8,899.5 L1366.1,900.9 L1366.3,902.4 L1366.6,903.9 L1366.9,905.3 L1367.2,906.8 L1367.5,908.3 L1367.8,909.7 L1368.1,911.2 L1368.4,912.7 L1368.6,914.1 L1368.9,915.6 L1369.2,917.1 L1369.5,918.5 L1369.8,920.0 L1370.1,921.4 L1370.4,922.9 L1370.7,924.4 L1371.0,925.8 L1371.3,927.3 L1371.6,928.8 L1371.9,930.2 L1372.2,931.7 L1372.5,933.1 L1372.8,934.6 L1373.1,936.1 L1373.4,937.5 L1373.7,939.0 L1374.0,940.5 L1374.3,941.9 L1374.6,943.4 L1374.9,944.8 L1375.2,946.3 L1375.6,947.8 L1375.9,949.2 L1376.2,950.7 L1376.5,952.1 L1376.8,953.6 L1377.1,955.1 L1377.4,956.5 L1377.8,958.0 L1378.1,959.4 L1378.4,960.9 L1378.7,962.4 L1379.0,963.8 L1379.4,965.3 L1379.7,966.7 L1380.0,968.2 L1380.3,969.6 L1380.7,971.1 L1381.0,972.6 L1381.3,974.0 L1381.7,975.5 L1382.0,976.9 L1382.3,978.4 L1382.7,979.9 L1383.0,981.3 L1383.3,982.8 L1383.7,984.2 L1384.0,985.7 L1384.4,987.2 L1384.7,988.6 L1385.0,990.1 L1385.4,991.5 L1385.7,993.0 L1386.1,994.5 L1386.4,995.9 L1386.8,997.4 L1387.1,998.8 L1387.5,1000.3 L1387.9,1001.8 L1388.2,1003.2 L1388.6,1004.7 L1388.9,1006.1 L1389.3,1007.6 L1389.7,1009.1 L1390.0,1010.5 L1390.4,1012.0 L1390.8,1013.5 L1391.1,1014.9 L1391.5,1016.4 L1391.9,1017.8 L1392.3,1019.3 L1392.6,1020.8 L1393.0,1022.2 L1393.4,1023.7 L1393.8,1025.2 L1394.2,1026.6 L1394.6,1028.1 L1394.9,1029.6 L1395.3,1031.0 L1395.7,1032.5 L1396.1,1034.0 L1396.5,1035.4 L1396.9,1036.9 L1397.3,1038.4 L1397.7,1039.8 L1398.1,1041.3 L1398.5,1042.8 L1398.9,1044.2 L1399.4,1045.7 L1399.8,1047.2 L1400.2,1048.6 L1400.6,1050.1 L1401.0,1051.6 L1401.5,1053.0 L1401.9,1054.5 L1402.4,1055.9 L1402.8,1057.4 L1403.3,1058.8 L1403.7,1060.3 L1404.2,1061.7 L1404.7,1063.1 L1405.2,1064.6 L1405.7,1066.0 L1406.2,1067.4 L1406.7,1068.8 L1407.3,1070.2 L1407.8,1071.7 L1408.4,1073.0 L1409.0,1074.4 L1409.5,1075.8 L1410.1,1077.2 L1410.7,1078.6 L1411.4,1079.9 L1412.0,1081.3 L1412.7,1082.6 L1413.3,1083.9 L1414.0,1085.2 L1414.7,1086.6 L1415.4,1087.9 L1416.2,1089.1 L1416.9,1090.4 L1417.7,1091.7 L1418.5,1092.9 L1419.3,1094.2 L1420.1,1095.4 L1420.9,1096.6 L1421.8,1097.8 L1422.7,1098.9 L1423.7,1099.9 L1424.7,1100.9 L1425.8,1101.8 L1426.9,1102.5 L1428.1,1103.1 L1429.4,1103.6 L1430.7,1103.9 L1432.1,1104.1 L1433.5,1104.2 L1435.0,1104.2 L1436.6,1104.2 L1438.1,1104.1 L1439.7,1104.0 L1441.2,1103.9 L1442.8,1103.8 L1444.3,1103.7 L1445.8,1103.7 L1447.3,1103.7 L1448.8,1103.9 L1450.2,1104.2 L1451.5,1104.6 L1452.8,1105.1 L1454.0,1105.8 L1455.2,1106.6 L1456.3,1107.6 L1457.3,1108.6 L1458.3,1109.7 L1459.3,1110.8 L1460.2,1112.0 L1461.2,1113.2 L1462.1,1114.4 L1463.0,1115.6 L1463.9,1116.8 L1464.7,1118.0 L1465.5,1119.2 L1466.4,1120.5 L1467.2,1121.7 L1467.9,1123.0 L1468.7,1124.2 L1469.5,1125.5 L1470.2,1126.8 L1470.9,1128.0 L1471.6,1129.3 L1472.3,1130.6 L1473.0,1131.9 L1473.6,1133.2 L1474.3,1134.6 L1474.9,1135.9 L1475.5,1137.2 L1476.1,1138.6 L1476.7,1139.9 L1477.2,1141.2 L1477.8,1142.6 L1478.3,1144.0 L1478.8,1145.3 L1479.4,1146.7 L1479.9,1148.1 L1480.3,1149.5 L1480.8,1150.9 L1481.3,1152.3 L1481.7,1153.7 L1482.2,1155.1 L1482.6,1156.5 L1483.0,1157.9 L1483.4,1159.3 L1483.8,1160.8 L1484.2,1162.2 L1484.6,1163.6 L1485.0,1165.1 L1485.3,1166.5 L1485.7,1168.0 L1486.0,1169.4 L1486.3,1170.9 L1486.7,1172.3 L1487.0,1173.8 L1487.3,1175.2 L1487.6,1176.7 L1487.9,1178.2 L1488.2,1179.7 L1488.4,1181.1 L1488.7,1182.6 L1489.0,1184.1 L1489.2,1185.6 L1489.5,1187.1 L1489.7,1188.6 L1490.0,1190.1 L1490.2,1191.6 L1490.4,1193.1 L1490.7,1194.5 L1490.9,1196.0 L1491.1,1197.6 L1491.3,1199.1 L1491.6,1200.6 L1491.8,1202.1 L1492.0,1203.6 L1492.2,1205.1 L1492.4,1206.6 L1492.6,1208.1 L1492.8,1209.6 L1493.0,1211.1 L1493.2,1212.6 L1493.4,1214.1 L1493.5,1215.6 L1493.7,1217.1 L1493.9,1218.6 L1494.1,1220.2 L1494.3,1221.7 L1494.5,1223.2 L1494.7,1224.7 L1494.9,1226.2 L1495.1,1227.7 L1495.3,1229.2 L1495.4,1230.7 L1495.6,1232.2 L1495.8,1233.7 L1496.0,1235.2 L1496.2,1236.7 L1496.4,1238.2 L1496.6,1239.7 L1496.7,1241.2 L1496.9,1242.7 L1497.1,1244.2 L1497.3,1245.8 L1497.5,1247.3 L1497.7,1248.8 L1497.9,1250.3 L1498.0,1251.8 L1498.2,1253.3 L1498.4,1254.8 L1498.6,1256.3 L1498.8,1257.8 L1498.9,1259.3 L1499.1,1260.8 L1499.3,1262.3 L1499.5,1263.8 L1499.7,1265.3 L1499.9,1266.8 L1500.0,1268.3 L1500.2,1269.8 L1500.4,1271.3 L1500.6,1272.8 L1500.7,1274.3 L1500.9,1275.8 L1501.1,1277.3 L1501.3,1278.8 L1501.5,1280.2 L1501.6,1281.7 L1501.8,1283.2 L1502.0,1284.7 L1502.2,1286.2 L1502.3,1287.7 L1502.5,1289.2 L1502.7,1290.7 L1502.9,1292.2 L1503.0,1293.7 L1503.2,1295.2 L1503.4,1296.7 L1503.6,1298.2 L1503.7,1299.7 L1503.9,1301.2 L1504.1,1302.7 L1504.3,1304.2 L1504.4,1305.7 L1504.6,1307.2 L1504.8,1308.7 L1505.0,1310.1 L1505.1,1311.6 L1505.3,1313.1 L1505.5,1314.6 L1505.6,1316.1 L1505.8,1317.6 L1506.0,1319.1 L1506.2,1320.6 L1506.3,1322.1 L1506.5,1323.6 L1506.7,1325.1 L1506.8,1326.6 L1507.0,1328.0 L1507.2,1329.5 L1507.3,1331.0 L1507.5,1332.5 L1507.7,1334.0 L1507.8,1335.5 L1508.0,1337.0 L1508.2,1338.5 L1508.3,1340.0 L1508.5,1341.5 L1508.7,1342.9 L1508.8,1344.4 L1509.0,1345.9 L1509.2,1347.4 L1509.3,1348.9 L1509.5,1350.4 L1509.7,1351.9 L1509.8,1353.4 L1510.0,1354.9 L1510.2,1356.3 L1510.3,1357.8 L1510.5,1359.3 L1510.7,1360.8 L1510.8,1362.3 L1511.0,1363.8 L1511.2,1365.3 L1511.3,1366.8 L1511.5,1368.2 L1511.6,1369.7 L1511.8,1371.2 L1512.0,1372.7 L1512.1,1374.2 L1512.3,1375.7 L1512.5,1377.2 L1512.6,1378.7 L1512.8,1380.1 L1512.9,1381.6 L1513.1,1383.1 L1513.3,1384.6 L1513.4,1386.1 L1513.6,1387.6 L1513.7,1389.1 L1513.9,1390.5 L1514.1,1392.0 L1514.2,1393.5 L1514.4,1395.0 L1514.5,1396.5 L1514.7,1398.0 L1514.9,1399.5 L1515.0,1400.9 L1515.2,1402.4 L1515.3,1403.9 L1515.5,1405.4 L1515.6,1406.9 L1515.8,1408.4 L1516.0,1409.9 L1516.1,1411.3 L1516.3,1412.8 L1516.4,1414.3 L1516.6,1415.8 L1516.8,1417.3 L1516.9,1418.8 L1517.1,1420.3 L1517.2,1421.7 L1517.4,1423.2 L1517.5,1424.7 L1517.7,1426.2 L1517.8,1427.7 L1518.0,1429.2 L1518.2,1430.7 L1518.3,1432.1 L1518.5,1433.6 L1518.6,1435.1 L1518.8,1436.6 L1518.9,1438.1 L1519.1,1439.6 L1519.2,1441.1 L1519.4,1442.5 L1519.6,1444.0 L1519.7,1445.5 L1519.9,1447.0 L1520.0,1448.5 L1520.2,1450.0 L1520.3,1451.5 L1520.5,1452.9 L1520.6,1454.4 L1520.8,1455.9 L1520.9,1457.4 L1521.1,1458.9 L1521.2,1460.4 L1521.4,1461.9 L1521.5,1463.3 L1521.7,1464.8 L1521.9,1466.3 L1522.0,1467.8 L1522.2,1469.3 L1522.3,1470.8 L1522.5,1472.3 L1522.6,1473.7 L1522.8,1475.2 L1522.9,1476.7 L1523.1,1478.2 L1523.2,1479.7 L1523.4,1481.2 L1523.5,1482.7 L1523.7,1484.1 L1523.8,1485.6 L1524.0,1487.1 L1524.1,1488.6 L1524.3,1490.1 L1524.4,1491.6 L1524.6,1493.1 L1524.7,1494.6 L1524.9,1496.0 L1525.0,1497.5 L1525.2,1499.0 L1525.3,1500.5 L1525.5,1502.0 L1525.6,1503.5 L1525.8,1505.0 L1525.9,1506.5 L1526.1,1507.9 L1526.2,1509.4 L1526.4,1510.9 L1526.5,1512.4 L1526.7,1513.9 L1526.8,1515.4 L1527.0,1516.9 L1527.1,1518.4 L1527.3,1519.9 L1527.4,1521.3 L1527.6,1522.8 L1527.7,1524.3 L1527.9,1525.8 L1528.0,1527.3 L1528.2,1528.8 L1528.3,1530.3 L1528.5,1531.8 L1528.6,1533.3 L1528.8,1534.8 L1528.9,1536.3 L1529.1,1537.7 L1529.2,1539.2 L1529.4,1540.7 L1529.5,1542.2 L1529.7,1543.7 L1529.8,1545.2 L1530.0,1546.7 L1530.1,1548.2 L1530.3,1549.7 L1530.4,1551.2 L1530.6,1552.7 L1530.7,1554.2 L1530.9,1555.7 L1531.0,1557.1 L1531.2,1558.6 L1531.3,1560.1 L1531.4,1561.6 L1531.6,1563.1 L1531.7,1564.6 L1531.9,1566.1 L1532.0,1567.6 L1532.2,1569.1 L1532.3,1570.6 L1532.5,1572.1 L1532.6,1573.6 L1532.8,1575.1 L1532.9,1576.6 L1533.1,1578.1 L1533.2,1579.6 L1533.4,1581.1 L1533.5,1582.6 L1533.7,1584.1 L1533.8,1585.6 L1534.0,1587.1 L1534.1,1588.6 L1534.3,1590.1 L1534.4,1591.6 L1534.6,1593.1 L1534.7,1594.6 L1534.9,1596.1 L1535.0,1597.6 L1535.2,1599.1 L1535.3,1600.6 L1535.4,1602.1 L1535.6,1603.6 L1535.7,1605.1 L1535.9,1606.6 L1536.0,1608.1 L1536.2,1609.6 L1536.3,1611.1 L1536.5,1612.6 L1536.6,1614.1 L1536.8,1615.6 L1536.9,1617.1 L1537.1,1618.6 L1537.2,1620.1 L1537.4,1621.6 L1537.5,1623.1 L1537.7,1624.6 L1537.8,1626.1 L1538.0,1627.6 L1538.1,1629.1 L1538.3,1630.6 L1538.4,1632.1 L1538.6,1633.6 L1538.8,1635.1 L1538.9,1636.6 L1539.1,1638.1 L1539.2,1639.6 L1539.4,1641.1 L1539.6,1642.6 L1539.7,1644.1 L1539.9,1645.6 L1540.1,1647.1 L1540.2,1648.6 L1540.4,1650.1 L1540.6,1651.6 L1540.8,1653.1 L1541.0,1654.6 L1541.1,1656.1 L1541.3,1657.6 L1541.5,1659.1 L1541.7,1660.6 L1541.9,1662.1 L1542.1,1663.6 L1542.3,1665.1 L1542.5,1666.6 L1542.7,1668.1 L1543.0,1669.6 L1543.2,1671.1 L1543.4,1672.6 L1543.6,1674.1 L1543.9,1675.5 L1544.1,1677.0 L1544.3,1678.5 L1544.6,1680.0 L1544.8,1681.5 L1545.1,1683.0 L1545.3,1684.4 L1545.6,1685.9 L1545.9,1687.4 L1546.1,1688.9 L1546.4,1690.3 L1546.7,1691.8 L1547.0,1693.3 L1547.3,1694.7 L1547.6,1696.2 L1547.9,1697.7 L1548.2,1699.1 L1548.5,1700.6 L1548.8,1702.1 L1549.2,1703.5 L1549.5,1705.0 L1549.8,1706.4 L1550.2,1707.9 L1550.5,1709.3 L1550.9,1710.8 L1551.3,1712.2 L1551.6,1713.7 L1552.0,1715.1 L1552.4,1716.6 L1552.8,1718.0 L1553.2,1719.4 L1553.6,1720.9 L1554.0,1722.3 L1554.5,1723.7 L1554.9,1725.2 L1555.3,1726.6 L1555.8,1728.0 L1556.2,1729.4 L1556.7,1730.8 L1557.2,1732.3 L1557.6,1733.7 L1558.1,1735.1 L1558.6,1736.5 L1559.1,1737.9 L1559.6,1739.3 L1560.2,1740.7 L1560.7,1742.1 L1561.2,1743.5 L1561.8,1744.9 L1562.3,1746.3 L1562.9,1747.7 L1563.5,1749.0 L1564.1,1750.4 L1564.7,1751.8 L1565.3,1753.2 L1565.9,1754.5 L1566.5,1755.9 L1567.2,1757.3 L1567.8,1758.6 L1568.5,1760.0 L1569.1,1761.3 L1569.8,1762.7 L1570.5,1764.0 L1571.2,1765.4 L1571.9,1766.7 L1572.6,1768.1 L1573.3,1769.4 L1574.1,1770.7 L1574.8,1772.0 L1575.6,1773.4 L1576.4,1774.7 L1577.2,1775.9 L1578.0,1777.2 L1578.9,1778.4 L1579.8,1779.6 L1580.7,1780.7 L1581.7,1781.7 L1582.7,1782.7 L1583.8,1783.7 L1585.0,1784.5 L1586.2,1785.2 L1587.4,1785.9 L1588.8,1786.5 L1590.2,1786.9 L1591.7,1787.3 L1593.2,1787.5 L1594.9,1787.6 L1596.6,1787.5" stroke="#ffc000" stroke-width="9" fill="none" stroke-linejoin="round" stroke-linecap="round"/>
<path d="M354.0,1787.7 L355.5,1787.5 L357.0,1787.4 L358.5,1787.3 L360.0,1787.2 L361.5,1787.0 L363.0,1786.9 L364.5,1786.7 L366.0,1786.6 L367.5,1786.4 L369.0,1786.2 L370.5,1786.1 L372.0,1785.9 L373.4,1785.7 L374.9,1785.5 L376.4,1785.3 L377.9,1785.1 L379.4,1784.9 L380.9,1784.7 L382.4,1784.5 L383.8,1784.3 L385.3,1784.0 L386.8,1783.8 L388.3,1783.6 L389.7,1783.3 L391.2,1783.1 L392.7,1782.8 L394.2,1782.5 L395.6,1782.3 L397.1,1782.0 L398.6,1781.7 L400.0,1781.4 L401.5,1781.2 L403.0,1780.9 L404.4,1780.6 L405.9,1780.3 L407.3,1780.0 L408.8,1779.6 L410.3,1779.3 L411.7,1779.0 L413.2,1778.7 L414.6,1778.3 L416.1,1778.0 L417.5,1777.7 L419.0,1777.3 L420.4,1777.0 L421.9,1776.6 L423.3,1776.3 L424.8,1775.9 L426.2,1775.5 L427.6,1775.1 L429.1,1774.8 L430.5,1774.4 L432.0,1774.0 L433.4,1773.6 L434.8,1773.2 L436.3,1772.8 L437.7,1772.4 L439.1,1772.0 L440.6,1771.6 L442.0,1771.2 L443.4,1770.7 L444.8,1770.3 L446.3,1769.9 L447.7,1769.4 L449.1,1769.0 L450.5,1768.5 L452.0,1768.1 L453.4,1767.6 L454.8,1767.2 L456.2,1766.7 L457.6,1766.3 L459.0,1765.8 L460.5,1765.3 L461.9,1764.8 L463.3,1764.4 L464.7,1763.9 L466.1,1763.4 L467.5,1762.9 L468.9,1762.4 L470.3,1761.9 L471.7,1761.4 L473.1,1760.9 L474.5,1760.4 L475.9,1759.9 L477.3,1759.3 L478.7,1758.8 L480.1,1758.3 L481.5,1757.8 L482.9,1757.2 L484.3,1756.7 L485.7,1756.1 L487.1,1755.6 L488.5,1755.0 L489.9,1754.5 L491.3,1753.9 L492.7,1753.4 L494.1,1752.8 L495.4,1752.3 L496.8,1751.7 L498.2,1751.1 L499.6,1750.5 L501.0,1750.0 L502.4,1749.4 L503.7,1748.8 L505.1,1748.2 L506.5,1747.6 L507.9,1747.0 L509.2,1746.4 L510.6,1745.8 L512.0,1745.2 L513.4,1744.6 L514.7,1744.0 L516.1,1743.4 L517.5,1742.8 L518.8,1742.2 L520.2,1741.6 L521.6,1740.9 L522.9,1740.3 L524.3,1739.7 L525.7,1739.0 L527.0,1738.4 L528.4,1737.8 L529.8,1737.1 L531.1,1736.5 L532.5,1735.8 L533.8,1735.2 L535.2,1734.5 L536.5,1733.9 L537.9,1733.2 L539.2,1732.6 L540.6,1731.9 L541.9,1731.3 L543.3,1730.6 L544.6,1729.9 L546.0,1729.3 L547.3,1728.6 L548.7,1727.9 L550.0,1727.2 L551.4,1726.6 L552.7,1725.9 L554.1,1725.2 L555.4,1724.5 L556.8,1723.8 L558.1,1723.1 L559.4,1722.5 L560.8,1721.8 L562.1,1721.1 L563.4,1720.4 L564.8,1719.7 L566.1,1719.0 L567.4,1718.3 L568.8,1717.6 L570.1,1716.9 L571.4,1716.2 L572.8,1715.4 L574.1,1714.7 L575.4,1714.0 L576.8,1713.3 L578.1,1712.6 L579.4,1711.9 L580.7,1711.1 L582.1,1710.4 L583.4,1709.7 L584.7,1709.0 L586.0,1708.3 L587.3,1707.5 L588.7,1706.8 L590.0,1706.1 L591.3,1705.3 L592.6,1704.6 L593.9,1703.9 L595.3,1703.1 L596.6,1702.4 L597.9,1701.7 L599.2,1700.9 L600.5,1700.2 L601.8,1699.4 L603.1,1698.7 L604.4,1697.9 L605.8,1697.2 L607.1,1696.5 L608.4,1695.7 L609.7,1695.0 L611.0,1694.2 L612.3,1693.5 L613.6,1692.7 L614.9,1692.0 L616.2,1691.2 L617.5,1690.5 L618.8,1689.7 L620.1,1688.9 L621.4,1688.2 L622.7,1687.4 L624.0,1686.7 L625.3,1685.9 L626.6,1685.2 L627.9,1684.4 L629.2,1683.6 L630.5,1682.9 L631.8,1682.1 L633.1,1681.3 L634.4,1680.6 L635.7,1679.8 L636.9,1679.0 L638.2,1678.3 L639.5,1677.5 L640.8,1676.7 L642.1,1676.0 L643.4,1675.2 L644.7,1674.4 L645.9,1673.6 L647.2,1672.9 L648.5,1672.1 L649.8,1671.3 L651.1,1670.5 L652.3,1669.7 L653.6,1668.9 L654.9,1668.2 L656.1,1667.4 L657.4,1666.6 L658.7,1665.8 L659.9,1665.0 L661.2,1664.2 L662.5,1663.4 L663.7,1662.6 L665.0,1661.8 L666.2,1661.0 L667.5,1660.1 L668.8,1659.3 L670.0,1658.5 L671.3,1657.7 L672.5,1656.9 L673.8,1656.0 L675.0,1655.2 L676.2,1654.4 L677.5,1653.6 L678.7,1652.7 L680.0,1651.9 L681.2,1651.0 L682.4,1650.2 L683.6,1649.3 L684.9,1648.5 L686.1,1647.6 L687.3,1646.8 L688.5,1645.9 L689.8,1645.0 L691.0,1644.2 L692.2,1643.3 L693.4,1642.4 L694.6,1641.5 L695.8,1640.7 L697.0,1639.8 L698.2,1638.9 L699.4,1638.0 L700.6,1637.1 L701.8,1636.2 L703.0,1635.3 L704.2,1634.4 L705.4,1633.5 L706.5,1632.5 L707.7,1631.6 L708.9,1630.7 L710.1,1629.8 L711.2,1628.8 L712.4,1627.9 L713.6,1626.9 L714.7,1626.0 L715.9,1625.1 L717.1,1624.1 L718.2,1623.1 L719.4,1622.2 L720.5,1621.2 L721.7,1620.3 L722.8,1619.3 L724.0,1618.3 L725.1,1617.3 L726.2,1616.4 L727.4,1615.4 L728.5,1614.4 L729.6,1613.4 L730.7,1612.4 L731.9,1611.4 L733.0,1610.4 L734.1,1609.4 L735.2,1608.4 L736.3,1607.4 L737.4,1606.4 L738.5,1605.4 L739.6,1604.3 L740.7,1603.3 L741.8,1602.3 L742.9,1601.3 L744.0,1600.2 L745.1,1599.2 L746.2,1598.2 L747.3,1597.1 L748.3,1596.1 L749.4,1595.0 L750.5,1594.0 L751.6,1592.9 L752.6,1591.9 L753.7,1590.8 L754.7,1589.8 L755.8,1588.7 L756.9,1587.6 L757.9,1586.5 L759.0,1585.5 L760.0,1584.4 L761.0,1583.3 L762.1,1582.2 L763.1,1581.1 L764.2,1580.1 L765.2,1579.0 L766.2,1577.9 L767.2,1576.8 L768.2,1575.7 L769.3,1574.6 L770.3,1573.5 L771.3,1572.4 L772.3,1571.3 L773.3,1570.1 L774.3,1569.0 L775.3,1567.9 L776.3,1566.8 L777.3,1565.7 L778.3,1564.5 L779.3,1563.4 L780.2,1562.3 L781.2,1561.2 L782.2,1560.0 L783.2,1558.9 L784.1,1557.7 L785.1,1556.6 L786.1,1555.5 L787.0,1554.3 L788.0,1553.2 L788.9,1552.0 L789.9,1550.9 L790.8,1549.7 L791.8,1548.5 L792.7,1547.4 L793.7,1546.2 L794.6,1545.1 L795.5,1543.9 L796.4,1542.7 L797.4,1541.5 L798.3,1540.4 L799.2,1539.2 L800.1,1538.0 L801.0,1536.8 L801.9,1535.7 L802.9,1534.5 L803.8,1533.3 L804.7,1532.1 L805.6,1530.9 L806.5,1529.7 L807.3,1528.5 L808.2,1527.3 L809.1,1526.1 L810.0,1524.9 L810.9,1523.7 L811.8,1522.5 L812.6,1521.3 L813.5,1520.1 L814.4,1518.9 L815.2,1517.6 L816.1,1516.4 L817.0,1515.2 L817.8,1514.0 L818.7,1512.8 L819.5,1511.5 L820.4,1510.3 L821.2,1509.1 L822.1,1507.9 L822.9,1506.6 L823.7,1505.4 L824.6,1504.2 L825.4,1502.9 L826.2,1501.7 L827.1,1500.4 L827.9,1499.2 L828.7,1497.9 L829.5,1496.7 L830.3,1495.5 L831.2,1494.2 L832.0,1492.9 L832.8,1491.7 L833.6,1490.4 L834.4,1489.2 L835.2,1487.9 L836.0,1486.7 L836.8,1485.4 L837.6,1484.1 L838.4,1482.9 L839.2,1481.6 L839.9,1480.3 L840.7,1479.1 L841.5,1477.8 L842.3,1476.5 L843.1,1475.2 L843.8,1474.0 L844.6,1472.7 L845.4,1471.4 L846.1,1470.1 L846.9,1468.8 L847.7,1467.5 L848.4,1466.2 L849.2,1465.0 L849.9,1463.7 L850.7,1462.4 L851.4,1461.1 L852.2,1459.8 L852.9,1458.5 L853.7,1457.2 L854.4,1455.9 L855.2,1454.6 L855.9,1453.3 L856.6,1452.0 L857.4,1450.7 L858.1,1449.4 L858.8,1448.1 L859.5,1446.7 L860.3,1445.4 L861.0,1444.1 L861.7,1442.8 L862.4,1441.5 L863.1,1440.2 L863.9,1438.9 L864.6,1437.5 L865.3,1436.2 L866.0,1434.9 L866.7,1433.6 L867.4,1432.2 L868.1,1430.9 L868.8,1429.6 L869.5,1428.3 L870.2,1426.9 L870.9,1425.6 L871.6,1424.3 L872.3,1422.9 L873.0,1421.6 L873.6,1420.3 L874.3,1418.9 L875.0,1417.6 L875.7,1416.2 L876.4,1414.9 L877.0,1413.6 L877.7,1412.2 L878.4,1410.9 L879.1,1409.5 L879.7,1408.2 L880.4,1406.8 L881.1,1405.5 L881.7,1404.1 L882.4,1402.8 L883.1,1401.4 L883.7,1400.1 L884.4,1398.7 L885.0,1397.4 L885.7,1396.0 L886.3,1394.7 L887.0,1393.3 L887.6,1392.0 L888.3,1390.6 L888.9,1389.2 L889.6,1387.9 L890.2,1386.5 L890.8,1385.1 L891.5,1383.8 L892.1,1382.4 L892.8,1381.1 L893.4,1379.7 L894.0,1378.3 L894.7,1377.0 L895.3,1375.6 L895.9,1374.2 L896.5,1372.8 L897.2,1371.5 L897.8,1370.1 L898.4,1368.7 L899.0,1367.4 L899.7,1366.0 L900.3,1364.6 L900.9,1363.2 L901.5,1361.9 L902.1,1360.5 L902.7,1359.1 L903.4,1357.7 L904.0,1356.3 L904.6,1355.0 L905.2,1353.6 L905.8,1352.2 L906.4,1350.8 L907.0,1349.4 L907.6,1348.1 L908.2,1346.7 L908.8,1345.3 L909.4,1343.9 L910.0,1342.5 L910.6,1341.1 L911.2,1339.7 L911.8,1338.4 L912.4,1337.0 L913.0,1335.6 L913.6,1334.2 L914.2,1332.8 L914.8,1331.4 L915.3,1330.0 L915.9,1328.6 L916.5,1327.2 L917.1,1325.9 L917.7,1324.5 L918.3,1323.1 L918.8,1321.7 L919.4,1320.3 L920.0,1318.9 L920.6,1317.5 L921.2,1316.1 L921.7,1314.7 L922.3,1313.3 L922.9,1311.9 L923.5,1310.5 L924.0,1309.1 L924.6,1307.7 L925.2,1306.3 L925.8,1304.9 L926.3,1303.5 L926.9,1302.2 L927.5,1300.8 L928.0,1299.4 L928.6,1298.0 L929.2,1296.6 L929.7,1295.2 L930.3,1293.8 L930.9,1292.4 L931.4,1291.0 L932.0,1289.6 L932.5,1288.2 L933.1,1286.8 L933.7,1285.4 L934.2,1284.0 L934.8,1282.6 L935.3,1281.2 L935.9,1279.8 L936.5,1278.4 L937.0,1277.0 L937.6,1275.6 L938.1,1274.2 L938.7,1272.8 L939.2,1271.4 L939.8,1270.0 L940.3,1268.6 L940.9,1267.2 L941.5,1265.8 L942.0,1264.4 L942.6,1263.0 L943.1,1261.6 L943.7,1260.2 L944.2,1258.8 L944.8,1257.4 L945.3,1256.0 L945.8,1254.6 L946.4,1253.2 L946.9,1251.8 L947.5,1250.4 L948.0,1249.0 L948.6,1247.6 L949.1,1246.2 L949.7,1244.8 L950.2,1243.4 L950.8,1242.0 L951.3,1240.6 L951.8,1239.2 L952.4,1237.8 L952.9,1236.4 L953.5,1235.0 L954.0,1233.6 L954.6,1232.2 L955.1,1230.8 L955.6,1229.4 L956.2,1228.0 L956.7,1226.6 L957.2,1225.2 L957.8,1223.8 L958.3,1222.4 L958.9,1221.0 L959.4,1219.6 L959.9,1218.3 L960.5,1216.9 L961.0,1215.5 L961.5,1214.1 L962.1,1212.7 L962.6,1211.3 L963.1,1209.9 L963.7,1208.5 L964.2,1207.1 L964.7,1205.7 L965.3,1204.3 L965.8,1202.9 L966.3,1201.5 L966.8,1200.1 L967.4,1198.7 L967.9,1197.3 L968.4,1195.9 L969.0,1194.5 L969.5,1193.1 L970.0,1191.7 L970.5,1190.3 L971.1,1188.9 L971.6,1187.5 L972.1,1186.1 L972.6,1184.7 L973.2,1183.3 L973.7,1181.9 L974.2,1180.5 L974.7,1179.1 L975.2,1177.7 L975.8,1176.3 L976.3,1174.9 L976.8,1173.5 L977.3,1172.1 L977.8,1170.7 L978.4,1169.3 L978.9,1167.9 L979.4,1166.5 L979.9,1165.1 L980.4,1163.7 L980.9,1162.3 L981.5,1160.9 L982.0,1159.5 L982.5,1158.1 L983.0,1156.7 L983.5,1155.3 L984.0,1153.9 L984.5,1152.5 L985.1,1151.1 L985.6,1149.7 L986.1,1148.3 L986.6,1146.9 L987.1,1145.5 L987.6,1144.1 L988.1,1142.7 L988.6,1141.3 L989.1,1139.9 L989.7,1138.5 L990.2,1137.1 L990.7,1135.7 L991.2,1134.2 L991.7,1132.8 L992.2,1131.4 L992.7,1130.0 L993.2,1128.6 L993.7,1127.2 L994.2,1125.8 L994.7,1124.4 L995.2,1123.0 L995.7,1121.6 L996.2,1120.2 L996.7,1118.8 L997.2,1117.4 L997.7,1116.0 L998.2,1114.6 L998.7,1113.2 L999.2,1111.8 L999.7,1110.4 L1000.2,1109.0 L1000.7,1107.6 L1001.2,1106.2 L1001.7,1104.8 L1002.2,1103.4 L1002.7,1101.9 L1003.2,1100.5 L1003.7,1099.1 L1004.2,1097.7 L1004.7,1096.3 L1005.2,1094.9 L1005.7,1093.5 L1006.2,1092.1 L1006.7,1090.7 L1007.2,1089.3 L1007.7,1087.9 L1008.2,1086.5 L1008.6,1085.1 L1009.1,1083.7 L1009.6,1082.2 L1010.1,1080.8 L1010.6,1079.4 L1011.1,1078.0 L1011.6,1076.6 L1012.1,1075.2 L1012.6,1073.8 L1013.1,1072.4 L1013.5,1071.0 L1014.0,1069.6 L1014.5,1068.1 L1015.0,1066.7 L1015.5,1065.3 L1016.0,1063.9 L1016.5,1062.5 L1016.9,1061.1 L1017.4,1059.7 L1017.9,1058.3 L1018.4,1056.9 L1018.9,1055.4 L1019.4,1054.0 L1019.8,1052.6 L1020.3,1051.2 L1020.8,1049.8 L1021.3,1048.4 L1021.8,1047.0 L1022.3,1045.5 L1022.7,1044.1 L1023.2,1042.7 L1023.7,1041.3 L1024.2,1039.9 L1024.6,1038.5 L1025.1,1037.1 L1025.6,1035.6 L1026.1,1034.2 L1026.6,1032.8 L1027.0,1031.4 L1027.5,1030.0 L1028.0,1028.6 L1028.5,1027.1 L1028.9,1025.7 L1029.4,1024.3 L1029.9,1022.9 L1030.4,1021.5 L1030.8,1020.0 L1031.3,1018.6 L1031.8,1017.2 L1032.2,1015.8 L1032.7,1014.4 L1033.2,1012.9 L1033.7,1011.5 L1034.1,1010.1 L1034.6,1008.7 L1035.1,1007.3 L1035.5,1005.8 L1036.0,1004.4 L1036.5,1003.0 L1036.9,1001.6 L1037.4,1000.1 L1037.9,998.7 L1038.3,997.3 L1038.8,995.9 L1039.3,994.5 L1039.7,993.0 L1040.2,991.6 L1040.7,990.2 L1041.1,988.8 L1041.6,987.3 L1042.1,985.9 L1042.5,984.5 L1043.0,983.0 L1043.4,981.6 L1043.9,980.2 L1044.4,978.8 L1044.8,977.3 L1045.3,975.9 L1045.8,974.5 L1046.2,973.1 L1046.7,971.6 L1047.1,970.2 L1047.6,968.8 L1048.1,967.3 L1048.5,965.9 L1049.0,964.5 L1049.4,963.0 L1049.9,961.6 L1050.3,960.2 L1050.8,958.8 L1051.3,957.3 L1051.7,955.9 L1052.2,954.5 L1052.6,953.0 L1053.1,951.6 L1053.5,950.2 L1054.0,948.7 L1054.4,947.3 L1054.9,945.9 L1055.4,944.4 L1055.8,943.0 L1056.3,941.6 L1056.7,940.1 L1057.2,938.7 L1057.6,937.3 L1058.1,935.8 L1058.5,934.4 L1059.0,932.9 L1059.4,931.5 L1059.9,930.1 L1060.3,928.6 L1060.8,927.2 L1061.2,925.8 L1061.7,924.3 L1062.1,922.9 L1062.6,921.5 L1063.0,920.0 L1063.5,918.6 L1063.9,917.1 L1064.4,915.7 L1064.8,914.3 L1065.2,912.8 L1065.7,911.4 L1066.1,910.0 L1066.6,908.5 L1067.0,907.1 L1067.5,905.6 L1067.9,904.2 L1068.4,902.8 L1068.8,901.3 L1069.3,899.9 L1069.7,898.4 L1070.1,897.0 L1070.6,895.6 L1071.0,894.1 L1071.5,892.7 L1071.9,891.2 L1072.3,889.8 L1072.8,888.4 L1073.2,886.9 L1073.7,885.5 L1074.1,884.0 L1074.6,882.6 L1075.0,881.1 L1075.4,879.7 L1075.9,878.3 L1076.3,876.8 L1076.8,875.4 L1077.2,873.9 L1077.6,872.5 L1078.1,871.0 L1078.5,869.6 L1078.9,868.2 L1079.4,866.7 L1079.8,865.3 L1080.3,863.8 L1080.7,862.4 L1081.1,860.9 L1081.6,859.5 L1082.0,858.1 L1082.4,856.6 L1082.9,855.2 L1083.3,853.7 L1083.7,852.3 L1084.2,850.8 L1084.6,849.4 L1085.0,847.9 L1085.5,846.5 L1085.9,845.1 L1086.4,843.6 L1086.8,842.2 L1087.2,840.7 L1087.7,839.3 L1088.1,837.8 L1088.5,836.4 L1088.9,834.9 L1089.4,833.5 L1089.8,832.0 L1090.2,830.6 L1090.7,829.1 L1091.1,827.7 L1091.5,826.3 L1092.0,824.8 L1092.4,823.4 L1092.8,821.9 L1093.3,820.5 L1093.7,819.0 L1094.1,817.6 L1094.6,816.1 L1095.0,814.7 L1095.4,813.2 L1095.8,811.8 L1096.3,810.3 L1096.7,808.9 L1097.1,807.5 L1097.6,806.0 L1098.0,804.6 L1098.4,803.1 L1098.8,801.7 L1099.3,800.2 L1099.7,798.8 L1100.1,797.3 L1100.5,795.9 L1101.0,794.4 L1101.4,793.0 L1101.8,791.5 L1102.3,790.1 L1102.7,788.6 L1103.1,787.2 L1103.5,785.7 L1104.0,784.3 L1104.4,782.8 L1104.8,781.4 L1105.2,780.0 L1105.7,778.5 L1106.1,777.1 L1106.5,775.6 L1106.9,774.2 L1107.4,772.7 L1107.8,771.3 L1108.2,769.8 L1108.6,768.4 L1109.0,766.9 L1109.5,765.5 L1109.9,764.0 L1110.3,762.6 L1110.7,761.1 L1111.2,759.7 L1111.6,758.2 L1112.0,756.8 L1112.4,755.3 L1112.9,753.9 L1113.3,752.5 L1113.7,751.0 L1114.1,749.6 L1114.5,748.1 L1115.0,746.7 L1115.4,745.2 L1115.8,743.8 L1116.2,742.3 L1116.7,740.9 L1117.1,739.4 L1117.5,738.0 L1117.9,736.5 L1118.3,735.1 L1118.8,733.6 L1119.2,732.2 L1119.6,730.7 L1120.0,729.3 L1120.4,727.9 L1120.9,726.4 L1121.3,725.0 L1121.7,723.5 L1122.1,722.1 L1122.5,720.6 L1123.0,719.2 L1123.4,717.7 L1123.8,716.3 L1124.2,714.8 L1124.6,713.4 L1125.1,711.9 L1125.5,710.5 L1125.9,709.1 L1126.3,707.6 L1126.7,706.2 L1127.1,704.7 L1127.6,703.3 L1128.0,701.8 L1128.4,700.4 L1128.8,698.9 L1129.2,697.5 L1129.7,696.1 L1130.1,694.6 L1130.5,693.2 L1130.9,691.7 L1131.3,690.3 L1131.7,688.8 L1132.2,687.4 L1132.6,685.9 L1133.0,684.5 L1133.4,683.1 L1133.8,681.6 L1134.2,680.2 L1134.7,678.7 L1135.1,677.3 L1135.5,675.8 L1135.9,674.4 L1136.3,673.0 L1136.7,671.5 L1137.2,670.1 L1137.6,668.6 L1138.0,667.2 L1138.4,665.7 L1138.8,664.3 L1139.2,662.9 L1139.7,661.4 L1140.1,660.0 L1140.5,658.5 L1140.9,657.1 L1141.3,655.7 L1141.7,654.2 L1142.2,652.8 L1142.6,651.3 L1143.0,649.9 L1143.4,648.4 L1143.8,647.0 L1144.2,645.6 L1144.7,644.1 L1145.1,642.7 L1145.5,641.3 L1145.9,639.8 L1146.3,638.4 L1146.7,636.9 L1147.2,635.5 L1147.6,634.1 L1148.0,632.6 L1148.4,631.2 L1148.8,629.7 L1149.2,628.3 L1149.6,626.9 L1150.1,625.4 L1150.5,624.0 L1150.9,622.6 L1151.3,621.1 L1151.7,619.7 L1152.1,618.3 L1152.6,616.8 L1153.0,615.4 L1153.4,613.9 L1153.8,612.5 L1154.2,611.1 L1154.6,609.6 L1155.1,608.2 L1155.5,606.8 L1155.9,605.3 L1156.3,603.9 L1156.7,602.5 L1157.1,601.0 L1157.6,599.6 L1158.0,598.2 L1158.4,596.7 L1158.8,595.3 L1159.2,593.9 L1159.6,592.4 L1160.0,591.0 L1160.5,589.6 L1160.9,588.1 L1161.3,586.7 L1161.7,585.3 L1162.1,583.9 L1162.5,582.4 L1163.0,581.0 L1163.4,579.6 L1163.8,578.1 L1164.2,576.7 L1164.6,575.3 L1165.0,573.8 L1165.5,572.4 L1165.9,571.0 L1166.3,569.6 L1166.7,568.1 L1167.1,566.7 L1167.5,565.3 L1168.0,563.9 L1168.4,562.4 L1168.8,561.0 L1169.2,559.6 L1169.6,558.2 L1170.0,556.7 L1170.5,555.3 L1170.9,553.9 L1171.3,552.5 L1171.7,551.0 L1172.1,549.6 L1172.5,548.2 L1173.0,546.8 L1173.4,545.3 L1173.8,543.9 L1174.2,542.5 L1174.6,541.1 L1175.1,539.6 L1175.5,538.2 L1175.9,536.8 L1176.3,535.4 L1176.7,534.0 L1177.2,532.5 L1177.6,531.1 L1178.0,529.7 L1178.4,528.3 L1178.8,526.8 L1179.2,525.4 L1179.7,524.0 L1180.1,522.6 L1180.5,521.2 L1180.9,519.7 L1181.3,518.3 L1181.8,516.9 L1182.2,515.5 L1182.6,514.1 L1183.0,512.6 L1183.5,511.2 L1183.9,509.8 L1184.3,508.4 L1184.7,507.0 L1185.1,505.5 L1185.6,504.1 L1186.0,502.7 L1186.4,501.3 L1186.8,499.9 L1187.3,498.4 L1187.7,497.0 L1188.1,495.6 L1188.5,494.2 L1188.9,492.8 L1189.4,491.4 L1189.8,489.9 L1190.2,488.5 L1190.6,487.1 L1191.1,485.7 L1191.5,484.3 L1191.9,482.8 L1192.3,481.4 L1192.8,480.0 L1193.2,478.6 L1193.6,477.2 L1194.1,475.8 L1194.5,474.3 L1194.9,472.9 L1195.3,471.5 L1195.8,470.1 L1196.2,468.7 L1196.6,467.3 L1197.0,465.8 L1197.5,464.4 L1197.9,463.0 L1198.3,461.6 L1198.8,460.2 L1199.2,458.7 L1199.6,457.3 L1200.1,455.9 L1200.5,454.5 L1200.9,453.1 L1201.4,451.7 L1201.8,450.2 L1202.2,448.8 L1202.6,447.4 L1203.1,446.0 L1203.5,444.6 L1203.9,443.1 L1204.4,441.7 L1204.8,440.3 L1205.2,438.9 L1205.7,437.5 L1206.1,436.1 L1206.6,434.6 L1207.0,433.2 L1207.4,431.8 L1207.9,430.4 L1208.3,429.0 L1208.7,427.5 L1209.2,426.1 L1209.6,424.7 L1210.1,423.3 L1210.5,421.9 L1210.9,420.4 L1211.4,419.0 L1211.8,417.6 L1212.2,416.2 L1212.7,414.8 L1213.1,413.3 L1213.6,411.9 L1214.0,410.5 L1214.5,409.1 L1214.9,407.7 L1215.3,406.2 L1215.8,404.8 L1216.2,403.4 L1216.7,402.0 L1217.1,400.6 L1217.6,399.1 L1218.0,397.7 L1218.5,396.3 L1218.9,394.9 L1219.3,393.5 L1219.8,392.0 L1220.2,390.6 L1220.7,389.2 L1221.1,387.8 L1221.6,386.3 L1222.0,384.9 L1222.5,383.5 L1222.9,382.1 L1223.4,380.6 L1223.8,379.2 L1224.3,377.8 L1224.7,376.4 L1225.2,374.9 L1225.6,373.5 L1226.1,372.1 L1226.6,370.7 L1227.0,369.2 L1227.5,367.8 L1227.9,366.4 L1228.4,365.0 L1228.8,363.5 L1229.3,362.1 L1229.7,360.7 L1230.2,359.3 L1230.7,357.8 L1231.1,356.4 L1231.6,355.0 L1232.0,353.5 L1232.5,352.1 L1233.0,350.7 L1233.4,349.3 L1233.9,347.8 L1234.4,346.4 L1234.8,345.0 L1235.3,343.5 L1235.7,342.1 L1236.2,340.7 L1236.7,339.2 L1237.1,337.8 L1237.6,336.4 L1238.1,334.9 L1238.5,333.5 L1239.0,332.1 L1239.5,330.6 L1239.9,329.2 L1240.4,327.8 L1240.9,326.3 L1241.4,324.9 L1241.8,323.5 L1242.3,322.0 L1242.8,320.6 L1243.2,319.2 L1243.7,317.7 L1244.2,316.3 L1244.7,314.8 L1245.1,313.4 L1245.6,312.0 L1246.1,310.5 L1246.6,309.1 L1247.1,307.6 L1247.5,306.2 L1248.0,304.8 L1248.5,303.3 L1249.0,301.9 L1249.5,300.4 L1249.9,299.0 L1250.4,297.6 L1250.9,296.1 L1251.4,294.7 L1251.9,293.2 L1252.4,291.8 L1252.8,290.3 L1253.3,288.9 L1253.8,287.4 L1254.3,286.0 L1254.8,284.6 L1255.3,283.1 L1255.8,281.7 L1256.3,280.2 L1256.8,278.8 L1257.3,277.3 L1257.7,275.9 L1258.2,274.4 L1258.7,273.0 L1259.2,271.5 L1259.7,270.1 L1260.2,268.6 L1260.7,267.2 L1261.2,265.7 L1261.7,264.3 L1262.2,262.8 L1262.7,261.3 L1263.2,259.9 L1263.7,258.4 L1264.2,257.0 L1264.7,255.5 L1265.2,254.1 L1265.7,252.6 L1266.2,251.2 L1266.7,249.7 L1267.3,248.2 L1267.8,246.8 L1268.3,245.3 L1268.8,243.9 L1269.3,242.4 L1269.8,241.0 L1270.3,239.5 L1270.9,238.1 L1271.4,236.6 L1271.9,235.1 L1272.4,233.7 L1272.9,232.2 L1273.5,230.8 L1274.0,229.3 L1274.5,227.9 L1275.1,226.4 L1275.6,225.0 L1276.1,223.6 L1276.7,222.1 L1277.2,220.7 L1277.8,219.2 L1278.3,217.8 L1278.9,216.3 L1279.4,214.9 L1280.0,213.5 L1280.5,212.0 L1281.1,210.6 L1281.6,209.2 L1282.2,207.7 L1282.8,206.3 L1283.3,204.9 L1283.9,203.4 L1284.5,202.0 L1285.1,200.6 L1285.6,199.2 L1286.2,197.8 L1286.8,196.3 L1287.4,194.9 L1288.0,193.5 L1288.6,192.1 L1289.2,190.7 L1289.8,189.3 L1290.4,187.9 L1291.0,186.5 L1291.6,185.1 L1292.3,183.7 L1292.9,182.3 L1293.5,180.9 L1294.1,179.5 L1294.8,178.1 L1295.4,176.8 L1296.0,175.4 L1296.7,174.0 L1297.3,172.6 L1298.0,171.3 L1298.6,169.9 L1299.3,168.5 L1300.0,167.2 L1300.6,165.8 L1301.3,164.5 L1302.0,163.1 L1302.7,161.8 L1303.4,160.5 L1304.1,159.1 L1304.7,157.8 L1305.4,156.5 L1306.2,155.1 L1306.9,153.8 L1307.6,152.5 L1308.3,151.2 L1309.0,149.9 L1309.7,148.6 L1310.5,147.3 L1311.2,146.0 L1312.0,144.7 L1312.7,143.4 L1313.5,142.1 L1314.2,140.8 L1315.0,139.5 L1315.8,138.3 L1316.5,137.0 L1317.3,135.7 L1318.1,134.5 L1318.9,133.2 L1319.7,132.0 L1320.5,130.7 L1321.3,129.5 L1322.1,128.3 L1323.0,127.1 L1323.8,125.8 L1324.6,124.6 L1325.5,123.4 L1326.3,122.2 L1327.1,121.0 L1328.0,119.8 L1328.9,118.6 L1329.7,117.4 L1330.6,116.3 L1331.5,115.1 L1332.4,113.9 L1333.3,112.8 L1334.2,111.6 L1335.1,110.5 L1336.0,109.3 L1336.9,108.2 L1337.9,107.0 L1338.8,105.9 L1339.7,104.8 L1340.7,103.7 L1341.6,102.6 L1342.6,101.5 L1343.6,100.4 L1344.5,99.3 L1345.5,98.2 L1346.5,97.2 L1347.5,96.1 L1348.5,95.0 L1349.5,94.0 L1350.6,92.9 L1351.6,91.9 L1352.6,90.9 L1353.7,89.8 L1354.7,88.8 L1355.8,87.8 L1356.8,86.8 L1357.9,85.8 L1359.0,84.8 L1360.1,83.8 L1361.2,82.9 L1362.3,81.9 L1363.4,80.9 L1364.5,80.0 L1365.6,79.1 L1366.8,78.1 L1367.9,77.2 L1369.1,76.3 L1370.2,75.4 L1371.4,74.5 L1372.6,73.6 L1373.8,72.7 L1375.0,71.8 L1376.2,70.9 L1377.4,70.1 L1378.6,69.3 L1379.9,68.4 L1381.1,67.6 L1382.4,66.8 L1383.6,66.1 L1384.9,65.3 L1386.2,64.6 L1387.4,63.9 L1388.7,63.2 L1390.0,62.5 L1391.4,61.9 L1392.7,61.2 L1394.0,60.6 L1395.4,60.0 L1396.7,59.5 L1398.1,59.0 L1399.5,58.5 L1400.8,58.0 L1402.2,57.6 L1403.6,57.1 L1405.1,56.8 L1406.5,56.4 L1407.9,56.1 L1409.4,55.8 L1410.8,55.6 L1412.3,55.4 L1413.8,55.2 L1415.3,55.0 L1416.8,54.9 L1418.3,54.8 L1419.8,54.8 L1421.3,54.7 L1422.8,54.7 L1424.3,54.7 L1425.9,54.8 L1427.4,54.8 L1428.9,54.9 L1430.5,54.9 L1432.0,55.0 L1433.5,55.1 L1435.0,55.2 L1436.6,55.3 L1438.1,55.4 L1439.6,55.5 L1441.1,55.6" stroke="#ed7d31" stroke-width="9" fill="none" stroke-linejoin="round" stroke-linecap="round"/>
<path d="M592.0,1788.9 L593.4,1788.9 L594.9,1789.0 L596.4,1789.0 L597.9,1789.0 L599.4,1789.1 L600.9,1789.1 L602.4,1789.1 L603.9,1789.2 L605.5,1789.2 L607.0,1789.2 L608.5,1789.2 L610.0,1789.2 L611.5,1789.2 L613.0,1789.2 L614.6,1789.2 L616.1,1789.2 L617.6,1789.2 L619.1,1789.2 L620.6,1789.1 L622.1,1789.1 L623.7,1789.0 L625.2,1788.9 L626.7,1788.8 L628.2,1788.7 L629.7,1788.6 L631.2,1788.5 L632.7,1788.4 L634.1,1788.2 L635.6,1788.0 L637.1,1787.9 L638.6,1787.6 L640.0,1787.4 L641.5,1787.2 L642.9,1786.9 L644.4,1786.6 L645.8,1786.3 L647.2,1786.0 L648.6,1785.7 L650.0,1785.3 L651.4,1784.9 L652.8,1784.5 L654.2,1784.1 L655.6,1783.6 L656.9,1783.1 L658.3,1782.6 L659.6,1782.1 L660.9,1781.5 L662.2,1780.9 L663.5,1780.3 L664.8,1779.7 L666.1,1779.0 L667.4,1778.4 L668.6,1777.7 L669.9,1776.9 L671.1,1776.2 L672.4,1775.4 L673.6,1774.6 L674.8,1773.8 L676.0,1773.0 L677.2,1772.2 L678.4,1771.3 L679.6,1770.4 L680.7,1769.5 L681.9,1768.6 L683.0,1767.7 L684.2,1766.7 L685.3,1765.8 L686.5,1764.8 L687.6,1763.8 L688.7,1762.8 L689.8,1761.8 L690.9,1760.8 L692.0,1759.7 L693.1,1758.7 L694.2,1757.6 L695.3,1756.5 L696.4,1755.4 L697.4,1754.4 L698.5,1753.2 L699.5,1752.1 L700.6,1751.0 L701.6,1749.9 L702.7,1748.7 L703.7,1747.6 L704.8,1746.4 L705.8,1745.3 L706.8,1744.1 L707.8,1742.9 L708.8,1741.7 L709.9,1740.6 L710.9,1739.4 L711.9,1738.2 L712.9,1737.0 L713.9,1735.8 L714.9,1734.6 L715.9,1733.4 L716.9,1732.2 L717.9,1731.0 L718.8,1729.8 L719.8,1728.6 L720.8,1727.4 L721.8,1726.2 L722.8,1725.0 L723.8,1723.8 L724.7,1722.6 L725.7,1721.4 L726.7,1720.2 L727.7,1719.0 L728.6,1717.8 L729.6,1716.6 L730.5,1715.4 L731.5,1714.1 L732.5,1712.9 L733.4,1711.7 L734.4,1710.5 L735.3,1709.3 L736.3,1708.1 L737.2,1706.9 L738.2,1705.6 L739.1,1704.4 L740.1,1703.2 L741.0,1702.0 L741.9,1700.8 L742.9,1699.6 L743.8,1698.3 L744.7,1697.1 L745.7,1695.9 L746.6,1694.7 L747.5,1693.5 L748.4,1692.2 L749.4,1691.0 L750.3,1689.8 L751.2,1688.6 L752.1,1687.3 L753.0,1686.1 L753.9,1684.9 L754.8,1683.7 L755.8,1682.4 L756.7,1681.2 L757.6,1680.0 L758.5,1678.7 L759.4,1677.5 L760.3,1676.3 L761.2,1675.0 L762.1,1673.8 L763.0,1672.6 L763.8,1671.3 L764.7,1670.1 L765.6,1668.9 L766.5,1667.6 L767.4,1666.4 L768.3,1665.2 L769.2,1663.9 L770.0,1662.7 L770.9,1661.4 L771.8,1660.2 L772.7,1659.0 L773.5,1657.7 L774.4,1656.5 L775.3,1655.2 L776.1,1654.0 L777.0,1652.8 L777.9,1651.5 L778.7,1650.3 L779.6,1649.0 L780.5,1647.8 L781.3,1646.5 L782.2,1645.3 L783.0,1644.0 L783.9,1642.8 L784.7,1641.5 L785.6,1640.3 L786.4,1639.0 L787.3,1637.8 L788.1,1636.5 L789.0,1635.3 L789.8,1634.0 L790.6,1632.8 L791.5,1631.5 L792.3,1630.3 L793.1,1629.0 L794.0,1627.8 L794.8,1626.5 L795.6,1625.2 L796.5,1624.0 L797.3,1622.7 L798.1,1621.5 L798.9,1620.2 L799.8,1619.0 L800.6,1617.7 L801.4,1616.4 L802.2,1615.2 L803.1,1613.9 L803.9,1612.7 L804.7,1611.4 L805.5,1610.1 L806.3,1608.9 L807.1,1607.6 L807.9,1606.3 L808.7,1605.1 L809.5,1603.8 L810.4,1602.5 L811.2,1601.3 L812.0,1600.0 L812.8,1598.7 L813.6,1597.5 L814.4,1596.2 L815.2,1594.9 L816.0,1593.7 L816.8,1592.4 L817.6,1591.1 L818.3,1589.9 L819.1,1588.6 L819.9,1587.3 L820.7,1586.0 L821.5,1584.8 L822.3,1583.5 L823.1,1582.2 L823.9,1581.0 L824.7,1579.7 L825.4,1578.4 L826.2,1577.1 L827.0,1575.9 L827.8,1574.6 L828.6,1573.3 L829.3,1572.0 L830.1,1570.8 L830.9,1569.5 L831.7,1568.2 L832.4,1566.9 L833.2,1565.6 L834.0,1564.4 L834.7,1563.1 L835.5,1561.8 L836.3,1560.5 L837.1,1559.2 L837.8,1558.0 L838.6,1556.7 L839.3,1555.4 L840.1,1554.1 L840.9,1552.8 L841.6,1551.5 L842.4,1550.3 L843.2,1549.0 L843.9,1547.7 L844.7,1546.4 L845.4,1545.1 L846.2,1543.8 L846.9,1542.6 L847.7,1541.3 L848.5,1540.0 L849.2,1538.7 L850.0,1537.4 L850.7,1536.1 L851.5,1534.8 L852.2,1533.5 L853.0,1532.3 L853.7,1531.0 L854.5,1529.7 L855.2,1528.4 L855.9,1527.1 L856.7,1525.8 L857.4,1524.5 L858.2,1523.2 L858.9,1521.9 L859.7,1520.6 L860.4,1519.3 L861.1,1518.1 L861.9,1516.8 L862.6,1515.5 L863.4,1514.2 L864.1,1512.9 L864.8,1511.6 L865.6,1510.3 L866.3,1509.0 L867.0,1507.7 L867.8,1506.4 L868.5,1505.1 L869.3,1503.8 L870.0,1502.5 L870.7,1501.2 L871.4,1499.9 L872.2,1498.6 L872.9,1497.3 L873.6,1496.0 L874.4,1494.7 L875.1,1493.4 L875.8,1492.1 L876.6,1490.8 L877.3,1489.5 L878.0,1488.3 L878.7,1487.0 L879.5,1485.7 L880.2,1484.4 L880.9,1483.1 L881.6,1481.8 L882.4,1480.5 L883.1,1479.2 L883.8,1477.8 L884.5,1476.5 L885.3,1475.2 L886.0,1473.9 L886.7,1472.6 L887.4,1471.3 L888.2,1470.0 L888.9,1468.7 L889.6,1467.4 L890.3,1466.1 L891.0,1464.8 L891.8,1463.5 L892.5,1462.2 L893.2,1460.9 L893.9,1459.6 L894.6,1458.3 L895.4,1457.0 L896.1,1455.7 L896.8,1454.4 L897.5,1453.1 L898.2,1451.8 L899.0,1450.5 L899.7,1449.2 L900.4,1447.9 L901.1,1446.6 L901.8,1445.3 L902.5,1443.9 L903.3,1442.6 L904.0,1441.3 L904.7,1440.0 L905.4,1438.7 L906.1,1437.4 L906.8,1436.1 L907.6,1434.8 L908.3,1433.5 L909.0,1432.2 L909.7,1430.9 L910.4,1429.6 L911.1,1428.3 L911.9,1427.0 L912.6,1425.6 L913.3,1424.3 L914.0,1423.0 L914.7,1421.7 L915.4,1420.4 L916.1,1419.1 L916.9,1417.8 L917.6,1416.5 L918.3,1415.2 L919.0,1413.9 L919.7,1412.6 L920.4,1411.2 L921.1,1409.9 L921.9,1408.6 L922.6,1407.3 L923.3,1406.0 L924.0,1404.7 L924.7,1403.4 L925.4,1402.1 L926.1,1400.8 L926.8,1399.4 L927.6,1398.1 L928.3,1396.8 L929.0,1395.5 L929.7,1394.2 L930.4,1392.9 L931.1,1391.6 L931.8,1390.3 L932.5,1388.9 L933.3,1387.6 L934.0,1386.3 L934.7,1385.0 L935.4,1383.7 L936.1,1382.4 L936.8,1381.1 L937.5,1379.7 L938.2,1378.4 L938.9,1377.1 L939.6,1375.8 L940.4,1374.5 L941.1,1373.2 L941.8,1371.9 L942.5,1370.5 L943.2,1369.2 L943.9,1367.9 L944.6,1366.6 L945.3,1365.3 L946.0,1364.0 L946.7,1362.7 L947.4,1361.3 L948.1,1360.0 L948.9,1358.7 L949.6,1357.4 L950.3,1356.1 L951.0,1354.7 L951.7,1353.4 L952.4,1352.1 L953.1,1350.8 L953.8,1349.5 L954.5,1348.2 L955.2,1346.8 L955.9,1345.5 L956.6,1344.2 L957.3,1342.9 L958.0,1341.6 L958.7,1340.2 L959.4,1338.9 L960.1,1337.6 L960.8,1336.3 L961.5,1335.0 L962.2,1333.6 L962.9,1332.3 L963.7,1331.0 L964.4,1329.7 L965.1,1328.4 L965.8,1327.0 L966.5,1325.7 L967.2,1324.4 L967.9,1323.1 L968.6,1321.8 L969.3,1320.4 L970.0,1319.1 L970.7,1317.8 L971.4,1316.5 L972.1,1315.1 L972.8,1313.8 L973.5,1312.5 L974.2,1311.2 L974.9,1309.9 L975.6,1308.5 L976.3,1307.2 L977.0,1305.9 L977.7,1304.6 L978.4,1303.2 L979.1,1301.9 L979.7,1300.6 L980.4,1299.3 L981.1,1297.9 L981.8,1296.6 L982.5,1295.3 L983.2,1294.0 L983.9,1292.6 L984.6,1291.3 L985.3,1290.0 L986.0,1288.7 L986.7,1287.3 L987.4,1286.0 L988.1,1284.7 L988.8,1283.4 L989.5,1282.0 L990.2,1280.7 L990.9,1279.4 L991.6,1278.0 L992.3,1276.7 L992.9,1275.4 L993.6,1274.1 L994.3,1272.7 L995.0,1271.4 L995.7,1270.1 L996.4,1268.7 L997.1,1267.4 L997.8,1266.1 L998.5,1264.8 L999.2,1263.4 L999.9,1262.1 L1000.5,1260.8 L1001.2,1259.4 L1001.9,1258.1 L1002.6,1256.8 L1003.3,1255.5 L1004.0,1254.1 L1004.7,1252.8 L1005.4,1251.5 L1006.0,1250.1 L1006.7,1248.8 L1007.4,1247.5 L1008.1,1246.1 L1008.8,1244.8 L1009.5,1243.5 L1010.2,1242.1 L1010.8,1240.8 L1011.5,1239.5 L1012.2,1238.1 L1012.9,1236.8 L1013.6,1235.5 L1014.3,1234.1 L1015.0,1232.8 L1015.6,1231.5 L1016.3,1230.1 L1017.0,1228.8 L1017.7,1227.5 L1018.4,1226.1 L1019.0,1224.8 L1019.7,1223.5 L1020.4,1222.1 L1021.1,1220.8 L1021.8,1219.5 L1022.4,1218.1 L1023.1,1216.8 L1023.8,1215.4 L1024.5,1214.1 L1025.2,1212.8 L1025.8,1211.4 L1026.5,1210.1 L1027.2,1208.8 L1027.9,1207.4 L1028.5,1206.1 L1029.2,1204.7 L1029.9,1203.4 L1030.6,1202.1 L1031.2,1200.7 L1031.9,1199.4 L1032.6,1198.1 L1033.3,1196.7 L1033.9,1195.4 L1034.6,1194.0 L1035.3,1192.7 L1036.0,1191.4 L1036.6,1190.0 L1037.3,1188.7 L1038.0,1187.3 L1038.7,1186.0 L1039.3,1184.7 L1040.0,1183.3 L1040.7,1182.0 L1041.3,1180.6 L1042.0,1179.3 L1042.7,1178.0 L1043.3,1176.6 L1044.0,1175.3 L1044.7,1173.9 L1045.4,1172.6 L1046.0,1171.2 L1046.7,1169.9 L1047.4,1168.6 L1048.0,1167.2 L1048.7,1165.9 L1049.4,1164.5 L1050.0,1163.2 L1050.7,1161.8 L1051.3,1160.5 L1052.0,1159.2 L1052.7,1157.8 L1053.3,1156.5 L1054.0,1155.1 L1054.7,1153.8 L1055.3,1152.4 L1056.0,1151.1 L1056.6,1149.7 L1057.3,1148.4 L1058.0,1147.0 L1058.6,1145.7 L1059.3,1144.3 L1060.0,1143.0 L1060.6,1141.7 L1061.3,1140.3 L1061.9,1139.0 L1062.6,1137.6 L1063.2,1136.3 L1063.9,1134.9 L1064.6,1133.6 L1065.2,1132.2 L1065.9,1130.9 L1066.5,1129.5 L1067.2,1128.2 L1067.8,1126.8 L1068.5,1125.5 L1069.1,1124.1 L1069.8,1122.8 L1070.5,1121.4 L1071.1,1120.1 L1071.8,1118.7 L1072.4,1117.4 L1073.1,1116.0 L1073.7,1114.7 L1074.4,1113.3 L1075.0,1112.0 L1075.7,1110.6 L1076.3,1109.3 L1077.0,1107.9 L1077.6,1106.6 L1078.3,1105.2 L1078.9,1103.9 L1079.6,1102.5 L1080.2,1101.2 L1080.8,1099.8 L1081.5,1098.4 L1082.1,1097.1 L1082.8,1095.7 L1083.4,1094.4 L1084.1,1093.0 L1084.7,1091.7 L1085.4,1090.3 L1086.0,1089.0 L1086.6,1087.6 L1087.3,1086.3 L1087.9,1084.9 L1088.6,1083.5 L1089.2,1082.2 L1089.9,1080.8 L1090.5,1079.5 L1091.1,1078.1 L1091.8,1076.8 L1092.4,1075.4 L1093.1,1074.1 L1093.7,1072.7 L1094.3,1071.3 L1095.0,1070.0 L1095.6,1068.6 L1096.2,1067.3 L1096.9,1065.9 L1097.5,1064.5 L1098.1,1063.2 L1098.8,1061.8 L1099.4,1060.5 L1100.0,1059.1 L1100.7,1057.8 L1101.3,1056.4 L1101.9,1055.0 L1102.6,1053.7 L1103.2,1052.3 L1103.8,1050.9 L1104.5,1049.6 L1105.1,1048.2 L1105.7,1046.9 L1106.3,1045.5 L1107.0,1044.1 L1107.6,1042.8 L1108.2,1041.4 L1108.9,1040.1 L1109.5,1038.7 L1110.1,1037.3 L1110.7,1036.0 L1111.4,1034.6 L1112.0,1033.2 L1112.6,1031.9 L1113.2,1030.5 L1113.9,1029.1 L1114.5,1027.8 L1115.1,1026.4 L1115.7,1025.1 L1116.3,1023.7 L1117.0,1022.3 L1117.6,1021.0 L1118.2,1019.6 L1118.8,1018.2 L1119.4,1016.9 L1120.1,1015.5 L1120.7,1014.1 L1121.3,1012.8 L1121.9,1011.4 L1122.5,1010.0 L1123.1,1008.7 L1123.8,1007.3 L1124.4,1005.9 L1125.0,1004.6 L1125.6,1003.2 L1126.2,1001.8 L1126.8,1000.5 L1127.4,999.1 L1128.0,997.7 L1128.7,996.3 L1129.3,995.0 L1129.9,993.6 L1130.5,992.2 L1131.1,990.9 L1131.7,989.5 L1132.3,988.1 L1132.9,986.8 L1133.5,985.4 L1134.1,984.0 L1134.7,982.6 L1135.3,981.3 L1135.9,979.9 L1136.5,978.5 L1137.1,977.2 L1137.7,975.8 L1138.4,974.4 L1139.0,973.0 L1139.6,971.7 L1140.2,970.3 L1140.8,968.9 L1141.4,967.5 L1142.0,966.2 L1142.6,964.8 L1143.2,963.4 L1143.7,962.0 L1144.3,960.7 L1144.9,959.3 L1145.5,957.9 L1146.1,956.5 L1146.7,955.2 L1147.3,953.8 L1147.9,952.4 L1148.5,951.0 L1149.1,949.7 L1149.7,948.3 L1150.3,946.9 L1150.9,945.5 L1151.5,944.1 L1152.1,942.8 L1152.6,941.4 L1153.2,940.0 L1153.8,938.6 L1154.4,937.3 L1155.0,935.9 L1155.6,934.5 L1156.2,933.1 L1156.7,931.7 L1157.3,930.4 L1157.9,929.0 L1158.5,927.6 L1159.1,926.2 L1159.7,924.8 L1160.2,923.5 L1160.8,922.1 L1161.4,920.7 L1162.0,919.3 L1162.6,917.9 L1163.1,916.5 L1163.7,915.2 L1164.3,913.8 L1164.9,912.4 L1165.5,911.0 L1166.0,909.6 L1166.6,908.2 L1167.2,906.9 L1167.8,905.5 L1168.3,904.1 L1168.9,902.7 L1169.5,901.3 L1170.0,899.9 L1170.6,898.6 L1171.2,897.2 L1171.8,895.8 L1172.3,894.4 L1172.9,893.0 L1173.5,891.6 L1174.0,890.2 L1174.6,888.9 L1175.2,887.5 L1175.7,886.1 L1176.3,884.7 L1176.9,883.3 L1177.4,881.9 L1178.0,880.5 L1178.5,879.1 L1179.1,877.7 L1179.7,876.4 L1180.2,875.0 L1180.8,873.6 L1181.3,872.2 L1181.9,870.8 L1182.5,869.4 L1183.0,868.0 L1183.6,866.6 L1184.1,865.2 L1184.7,863.8 L1185.2,862.5 L1185.8,861.1 L1186.4,859.7 L1186.9,858.3 L1187.5,856.9 L1188.0,855.5 L1188.6,854.1 L1189.1,852.7 L1189.7,851.3 L1190.2,849.9 L1190.8,848.5 L1191.3,847.1 L1191.9,845.7 L1192.4,844.3 L1192.9,842.9 L1193.5,841.6 L1194.0,840.2 L1194.6,838.8 L1195.1,837.4 L1195.7,836.0 L1196.2,834.6 L1196.7,833.2 L1197.3,831.8 L1197.8,830.4 L1198.4,829.0 L1198.9,827.6 L1199.4,826.2 L1200.0,824.8 L1200.5,823.4 L1201.1,822.0 L1201.6,820.6 L1202.1,819.2 L1202.7,817.8 L1203.2,816.4 L1203.7,815.0 L1204.3,813.6 L1204.8,812.2 L1205.3,810.8 L1205.8,809.4 L1206.4,808.0 L1206.9,806.6 L1207.4,805.2 L1208.0,803.8 L1208.5,802.4 L1209.0,801.0 L1209.5,799.6 L1210.1,798.2 L1210.6,796.8 L1211.1,795.4 L1211.6,794.0 L1212.2,792.6 L1212.7,791.2 L1213.2,789.8 L1213.7,788.4 L1214.2,787.0 L1214.8,785.6 L1215.3,784.2 L1215.8,782.7 L1216.3,781.3 L1216.8,779.9 L1217.3,778.5 L1217.8,777.1 L1218.4,775.7 L1218.9,774.3 L1219.4,772.9 L1219.9,771.5 L1220.4,770.1 L1220.9,768.7 L1221.4,767.3 L1221.9,765.9 L1222.4,764.5 L1222.9,763.0 L1223.5,761.6 L1224.0,760.2 L1224.5,758.8 L1225.0,757.4 L1225.5,756.0 L1226.0,754.6 L1226.5,753.2 L1227.0,751.8 L1227.5,750.4 L1228.0,749.0 L1228.5,747.5 L1229.0,746.1 L1229.5,744.7 L1230.0,743.3 L1230.5,741.9 L1231.0,740.5 L1231.5,739.1 L1232.0,737.7 L1232.5,736.2 L1233.0,734.8 L1233.5,733.4 L1234.0,732.0 L1234.4,730.6 L1234.9,729.2 L1235.4,727.8 L1235.9,726.4 L1236.4,724.9 L1236.9,723.5 L1237.4,722.1 L1237.9,720.7 L1238.4,719.3 L1238.9,717.9 L1239.4,716.4 L1239.8,715.0 L1240.3,713.6 L1240.8,712.2 L1241.3,710.8 L1241.8,709.4 L1242.3,708.0 L1242.8,706.5 L1243.2,705.1 L1243.7,703.7 L1244.2,702.3 L1244.7,700.9 L1245.2,699.5 L1245.7,698.0 L1246.2,696.6 L1246.6,695.2 L1247.1,693.8 L1247.6,692.4 L1248.1,690.9 L1248.6,689.5 L1249.0,688.1 L1249.5,686.7 L1250.0,685.3 L1250.5,683.9 L1251.0,682.4 L1251.4,681.0 L1251.9,679.6 L1252.4,678.2 L1252.9,676.8 L1253.3,675.3 L1253.8,673.9 L1254.3,672.5 L1254.8,671.1 L1255.3,669.7 L1255.7,668.2 L1256.2,666.8 L1256.7,665.4 L1257.2,664.0 L1257.6,662.6 L1258.1,661.1 L1258.6,659.7 L1259.1,658.3 L1259.5,656.9 L1260.0,655.5 L1260.5,654.0 L1260.9,652.6 L1261.4,651.2 L1261.9,649.8 L1262.4,648.4 L1262.8,646.9 L1263.3,645.5 L1263.8,644.1 L1264.2,642.7 L1264.7,641.3 L1265.2,639.8 L1265.7,638.4 L1266.1,637.0 L1266.6,635.6 L1267.1,634.1 L1267.5,632.7 L1268.0,631.3 L1268.5,629.9 L1269.0,628.5 L1269.4,627.0 L1269.9,625.6 L1270.4,624.2 L1270.8,622.8 L1271.3,621.3 L1271.8,619.9 L1272.2,618.5 L1272.7,617.1 L1273.2,615.7 L1273.6,614.2 L1274.1,612.8 L1274.6,611.4 L1275.1,610.0 L1275.5,608.5 L1276.0,607.1 L1276.5,605.7 L1276.9,604.3 L1277.4,602.8 L1277.9,601.4 L1278.3,600.0 L1278.8,598.6 L1279.3,597.2 L1279.7,595.7 L1280.2,594.3 L1280.7,592.9 L1281.1,591.5 L1281.6,590.0 L1282.1,588.6 L1282.5,587.2 L1283.0,585.8 L1283.5,584.4 L1283.9,582.9 L1284.4,581.5 L1284.9,580.1 L1285.4,578.7 L1285.8,577.2 L1286.3,575.8 L1286.8,574.4 L1287.2,573.0 L1287.7,571.5 L1288.2,570.1 L1288.6,568.7 L1289.1,567.3 L1289.6,565.9 L1290.0,564.4 L1290.5,563.0 L1291.0,561.6 L1291.4,560.2 L1291.9,558.7 L1292.4,557.3 L1292.9,555.9 L1293.3,554.5 L1293.8,553.1 L1294.3,551.6 L1294.7,550.2 L1295.2,548.8 L1295.7,547.4 L1296.2,545.9 L1296.6,544.5 L1297.1,543.1 L1297.6,541.7 L1298.0,540.3 L1298.5,538.8 L1299.0,537.4 L1299.5,536.0 L1299.9,534.6 L1300.4,533.1 L1300.9,531.7 L1301.3,530.3 L1301.8,528.9 L1302.3,527.5 L1302.8,526.0 L1303.2,524.6 L1303.7,523.2 L1304.2,521.8 L1304.7,520.3 L1305.1,518.9 L1305.6,517.5 L1306.1,516.1 L1306.6,514.7 L1307.0,513.2 L1307.5,511.8 L1308.0,510.4 L1308.5,509.0 L1309.0,507.6 L1309.4,506.1 L1309.9,504.7 L1310.4,503.3 L1310.9,501.9 L1311.3,500.5 L1311.8,499.0 L1312.3,497.6 L1312.8,496.2 L1313.3,494.8 L1313.7,493.4 L1314.2,491.9 L1314.7,490.5 L1315.2,489.1 L1315.7,487.7 L1316.2,486.3 L1316.6,484.9 L1317.1,483.4 L1317.6,482.0 L1318.1,480.6 L1318.6,479.2 L1319.1,477.8 L1319.6,476.3 L1320.0,474.9 L1320.5,473.5 L1321.0,472.1 L1321.5,470.7 L1322.0,469.3 L1322.5,467.8 L1323.0,466.4 L1323.5,465.0 L1323.9,463.6 L1324.4,462.2 L1324.9,460.8 L1325.4,459.3 L1325.9,457.9 L1326.4,456.5 L1326.9,455.1 L1327.4,453.7 L1327.9,452.3 L1328.4,450.9 L1328.9,449.4 L1329.4,448.0 L1329.9,446.6 L1330.4,445.2 L1330.9,443.8 L1331.4,442.4 L1331.9,441.0 L1332.4,439.5 L1332.9,438.1 L1333.4,436.7 L1333.9,435.3 L1334.4,433.9 L1334.9,432.5 L1335.4,431.1 L1335.9,429.7 L1336.4,428.2 L1336.9,426.8 L1337.4,425.4 L1337.9,424.0 L1338.4,422.6 L1338.9,421.2 L1339.4,419.8 L1339.9,418.4 L1340.4,417.0 L1340.9,415.5 L1341.5,414.1 L1342.0,412.7 L1342.5,411.3 L1343.0,409.9 L1343.5,408.5 L1344.0,407.1 L1344.5,405.7 L1345.1,404.3 L1345.6,402.9 L1346.1,401.5 L1346.6,400.1 L1347.1,398.6 L1347.6,397.2 L1348.2,395.8 L1348.7,394.4 L1349.2,393.0 L1349.7,391.6 L1350.2,390.2 L1350.8,388.8 L1351.3,387.4 L1351.8,386.0 L1352.3,384.6 L1352.9,383.2 L1353.4,381.8 L1353.9,380.4 L1354.5,379.0 L1355.0,377.6 L1355.5,376.2 L1356.1,374.8 L1356.6,373.4 L1357.1,372.0 L1357.7,370.6 L1358.2,369.2 L1358.7,367.8 L1359.3,366.3 L1359.8,364.9 L1360.3,363.5 L1360.9,362.1 L1361.4,360.7 L1362.0,359.3 L1362.5,357.9 L1363.0,356.5 L1363.6,355.1 L1364.1,353.8 L1364.7,352.4 L1365.2,351.0 L1365.8,349.6 L1366.3,348.2 L1366.9,346.8 L1367.4,345.4 L1368.0,344.0 L1368.5,342.6 L1369.1,341.2 L1369.6,339.8 L1370.2,338.4 L1370.7,337.0 L1371.3,335.6 L1371.9,334.2 L1372.4,332.8 L1373.0,331.4 L1373.5,330.0 L1374.1,328.6 L1374.7,327.2 L1375.2,325.8 L1375.8,324.5 L1376.4,323.1 L1376.9,321.7 L1377.5,320.3 L1378.1,318.9 L1378.6,317.5 L1379.2,316.1 L1379.8,314.7 L1380.3,313.3 L1380.9,311.9 L1381.5,310.6 L1382.1,309.2 L1382.7,307.8 L1383.2,306.4 L1383.8,305.0 L1384.4,303.6 L1385.0,302.2 L1385.6,300.8 L1386.1,299.5 L1386.7,298.1 L1387.3,296.7 L1387.9,295.3 L1388.5,293.9 L1389.1,292.5 L1389.7,291.2 L1390.3,289.8 L1390.9,288.4 L1391.5,287.0 L1392.0,285.6 L1392.6,284.2 L1393.2,282.9 L1393.8,281.5 L1394.4,280.1 L1395.0,278.7 L1395.6,277.3 L1396.3,276.0 L1396.9,274.6 L1397.5,273.2 L1398.1,271.8 L1398.7,270.4 L1399.3,269.1 L1399.9,267.7 L1400.5,266.3 L1401.1,264.9 L1401.7,263.6 L1402.4,262.2 L1403.0,260.8 L1403.6,259.4 L1404.2,258.1 L1404.8,256.7 L1405.5,255.3 L1406.1,254.0 L1406.7,252.6 L1407.3,251.2 L1408.0,249.8 L1408.6,248.5 L1409.2,247.1 L1409.9,245.7 L1410.5,244.4 L1411.1,243.0 L1411.8,241.6 L1412.4,240.3 L1413.1,238.9 L1413.7,237.5 L1414.3,236.2 L1415.0,234.8 L1415.6,233.4 L1416.3,232.1 L1416.9,230.7 L1417.6,229.4 L1418.2,228.0 L1418.9,226.6 L1419.5,225.3 L1420.2,223.9 L1420.9,222.6 L1421.5,221.2 L1422.2,219.9 L1422.8,218.5 L1423.5,217.1 L1424.2,215.8 L1424.8,214.4 L1425.5,213.1 L1426.2,211.7 L1426.9,210.4 L1427.5,209.0 L1428.2,207.7 L1428.9,206.3 L1429.6,205.0 L1430.3,203.6 L1430.9,202.3 L1431.6,201.0 L1432.3,199.6 L1433.0,198.3 L1433.7,196.9 L1434.4,195.6 L1435.1,194.2 L1435.8,192.9 L1436.5,191.6 L1437.2,190.2 L1437.9,188.9 L1438.6,187.5 L1439.3,186.2 L1440.0,184.9 L1440.7,183.5 L1441.4,182.2 L1442.1,180.9 L1442.8,179.6 L1443.6,178.2 L1444.3,176.9 L1445.0,175.6 L1445.7,174.2 L1446.4,172.9 L1447.2,171.6 L1447.9,170.3 L1448.6,168.9 L1449.4,167.6 L1450.1,166.3 L1450.8,165.0 L1451.6,163.7 L1452.3,162.3 L1453.0,161.0 L1453.8,159.7 L1454.5,158.4 L1455.3,157.1 L1456.0,155.8 L1456.8,154.5 L1457.5,153.2 L1458.3,151.8 L1459.1,150.5 L1459.8,149.2 L1460.6,147.9 L1461.4,146.6 L1462.1,145.3 L1462.9,144.0 L1463.7,142.7 L1464.4,141.4 L1465.2,140.1 L1466.0,138.8 L1466.8,137.5 L1467.6,136.2 L1468.3,134.9 L1469.1,133.6 L1469.9,132.4 L1470.7,131.1 L1471.5,129.8 L1472.3,128.5 L1473.1,127.2 L1473.9,125.9 L1474.7,124.6 L1475.5,123.4 L1476.3,122.1 L1477.1,120.8 L1477.9,119.5 L1478.7,118.2 L1479.6,117.0 L1480.4,115.7 L1481.2,114.4 L1482.0,113.1 L1482.9,111.9 L1483.7,110.6 L1484.5,109.3 L1485.4,108.1 L1486.2,106.8 L1487.0,105.6 L1487.9,104.3 L1488.7,103.0 L1489.6,101.8 L1490.4,100.5 L1491.3,99.3 L1492.1,98.0 L1493.0,96.8 L1493.8,95.5 L1494.7,94.3 L1495.6,93.0 L1496.4,91.8 L1497.3,90.5 L1498.2,89.3 L1499.0,88.0 L1499.9,86.8 L1500.8,85.6 L1501.7,84.4 L1502.6,83.2 L1503.5,82.0 L1504.4,80.8 L1505.4,79.7 L1506.3,78.5 L1507.3,77.4 L1508.2,76.3 L1509.2,75.2 L1510.2,74.1 L1511.1,73.0 L1512.2,72.0 L1513.2,71.0 L1514.2,70.0 L1515.2,69.1 L1516.3,68.1 L1517.4,67.2 L1518.5,66.4 L1519.6,65.5 L1520.7,64.7 L1521.9,63.9 L1523.0,63.2 L1524.2,62.5 L1525.4,61.8 L1526.6,61.2 L1527.9,60.6 L1529.1,60.0 L1530.4,59.5 L1531.7,59.0 L1533.0,58.5 L1534.4,58.1 L1535.7,57.7 L1537.1,57.3 L1538.5,57.0 L1539.9,56.7 L1541.3,56.5 L1542.8,56.2 L1544.2,56.0 L1545.7,55.9 L1547.1,55.7 L1548.6,55.6 L1550.1,55.5 L1551.6,55.4 L1553.1,55.3 L1554.7,55.3 L1556.2,55.2 L1557.7,55.2 L1559.3,55.2 L1560.8,55.2 L1562.3,55.2 L1563.9,55.3 L1565.4,55.3 L1567.0,55.3 L1568.5,55.4 L1570.1,55.4 L1571.6,55.5 L1573.2,55.6 L1574.7,55.6 L1576.3,55.7 L1577.8,55.7 L1579.3,55.8 L1580.8,55.8 L1582.4,55.8 L1583.9,55.9 L1585.4,55.9 L1586.9,55.9 L1588.3,55.9 L1589.8,55.8 L1591.2,55.8 L1592.7,55.7 L1594.1,55.7 L1595.5,55.6" stroke="#a5a5a5" stroke-width="9" fill="none" stroke-linejoin="round" stroke-linecap="round"/>
<path d="M337,107.2H476" stroke="#4472c4" stroke-width="9"/>
<text transform="translate(483.39,125.40) scale(1.1,1)" font-size="54.7">Cement different</text>
<text transform="translate(483.69,188.00) scale(1.1,1)" font-size="54.7">distribution</text>
<path d="M337,240.2H476" stroke="#ffc000" stroke-width="9"/>
<text transform="translate(484.90,257.80) scale(1.1,1)" font-size="54.7">Tailings different</text>
<text transform="translate(483.69,321.40) scale(1.1,1)" font-size="54.7">distribution</text>
<path d="M337,373.2H476" stroke="#ed7d31" stroke-width="9"/>
<text transform="translate(483.39,391.00) scale(1.1,1)" font-size="54.7">Cement cumulative</text>
<text transform="translate(483.69,454.00) scale(1.1,1)" font-size="54.7">distribution</text>
<path d="M337,506.2H476" stroke="#a5a5a5" stroke-width="9"/>
<text transform="translate(484.90,524.40) scale(1.1,1)" font-size="54.7">Tailings cumulative</text>
<text transform="translate(483.69,586.00) scale(1.1,1)" font-size="54.7">distribution</text>
<text transform="translate(183.86,1813.17) scale(1.05,1)" font-size="74.4">0</text>
<text transform="translate(2055.23,1813.17) scale(1.1,1)" font-size="74.4">0</text>
<text transform="translate(125.27,1639.25) scale(1.05,1)" font-size="74.4">0.5</text>
<text transform="translate(2051.54,1639.44) scale(1.1,1)" font-size="74.4">10</text>
<text transform="translate(185.43,1465.89) scale(1.05,1)" font-size="74.4">1</text>
<text transform="translate(2054.82,1465.71) scale(1.1,1)" font-size="74.4">20</text>
<text transform="translate(125.27,1291.60) scale(1.05,1)" font-size="74.4">1.5</text>
<text transform="translate(2054.41,1291.98) scale(1.1,1)" font-size="74.4">30</text>
<text transform="translate(185.04,1118.43) scale(1.05,1)" font-size="74.4">2</text>
<text transform="translate(2056.86,1118.25) scale(1.1,1)" font-size="74.4">40</text>
<text transform="translate(125.27,944.14) scale(1.05,1)" font-size="74.4">2.5</text>
<text transform="translate(2053.59,944.52) scale(1.1,1)" font-size="74.4">50</text>
<text transform="translate(183.86,770.60) scale(1.05,1)" font-size="74.4">3</text>
<text transform="translate(2055.23,770.79) scale(1.1,1)" font-size="74.4">60</text>
<text transform="translate(125.27,596.68) scale(1.05,1)" font-size="74.4">3.5</text>
<text transform="translate(2053.18,597.06) scale(1.1,1)" font-size="74.4">70</text>
<text transform="translate(181.91,423.51) scale(1.05,1)" font-size="74.4">4</text>
<text transform="translate(2055.23,423.33) scale(1.1,1)" font-size="74.4">80</text>
<text transform="translate(125.27,249.22) scale(1.05,1)" font-size="74.4">4.5</text>
<text transform="translate(2056.04,249.60) scale(1.1,1)" font-size="74.4">90</text>
<text transform="translate(183.86,75.49) scale(1.05,1)" font-size="74.4">5</text>
<text transform="translate(2051.54,75.87) scale(1.1,1)" font-size="74.4">100</text>
<text transform="translate(242.00,1897.68) scale(1.11,1)" font-size="74.4">0.2</text>
<text transform="translate(696.27,1898.80) scale(1.11,1)" font-size="74.4">2</text>
<text transform="translate(1098.50,1898.06) scale(1.11,1)" font-size="74.4">20</text>
<text transform="translate(1501.36,1898.06) scale(1.11,1)" font-size="74.4">200</text>
<text transform="translate(1904.21,1898.06) scale(1.11,1)" font-size="74.4">2000</text>
<text transform="translate(956.17,1997.50) scale(1.1,1)" font-size="85.7">Particle Size (μm)</text>
<text transform="translate(96.00,1406.54) rotate(-90) scale(1,1.1)" font-size="84.73">Different distribution (%)</text>
<text transform="translate(2240.00,1400.90) rotate(-90) scale(1,1.1)" font-size="85.1">Cumulative distribution (%)</text>
</svg>
</body></html>
